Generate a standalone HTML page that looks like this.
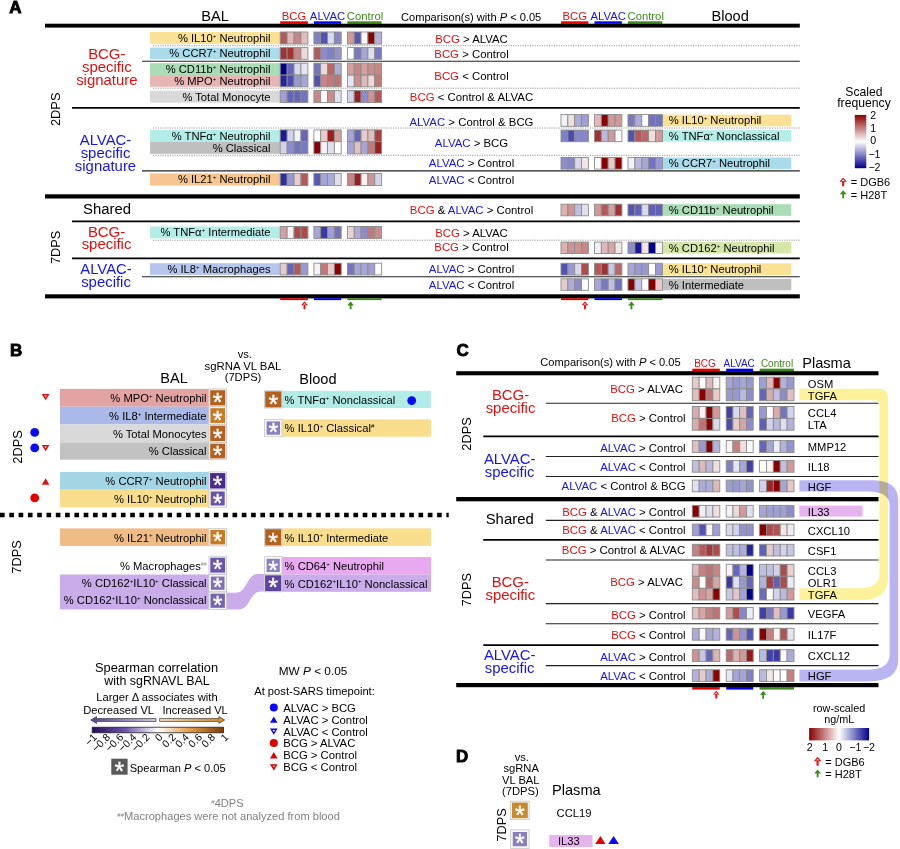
<!DOCTYPE html>
<html><head><meta charset="utf-8"><title>Figure</title>
<style>
html,body{margin:0;padding:0;background:#fff;}
body{width:900px;height:849px;overflow:hidden;}
svg{display:block;font-family:"Liberation Sans", sans-serif;opacity:0.9999;}
svg text{font-family:"Liberation Sans", sans-serif;}
</style></head><body>
<svg width="900" height="849" viewBox="0 0 900 849">
<defs>
<linearGradient id="gA" x1="0" y1="0" x2="0" y2="1"><stop offset="0" stop-color="#8b0000"/><stop offset="0.5" stop-color="#ffffff"/><stop offset="1" stop-color="#00008b"/></linearGradient>
<linearGradient id="gC" x1="0" y1="0" x2="1" y2="0"><stop offset="0" stop-color="#8b0000"/><stop offset="0.5" stop-color="#ffffff"/><stop offset="1" stop-color="#00008b"/></linearGradient>
<linearGradient id="gS" x1="0" y1="0" x2="1" y2="0"><stop offset="0" stop-color="#2d0a5e"/><stop offset="0.25" stop-color="#6a55a8"/><stop offset="0.5" stop-color="#ffffff"/><stop offset="0.75" stop-color="#e09a45"/><stop offset="1" stop-color="#7f3b08"/></linearGradient>
<linearGradient id="gP" x1="0" y1="0" x2="1" y2="0"><stop offset="0" stop-color="#5a3fa0"/><stop offset="1" stop-color="#d8d0ee"/></linearGradient>
<linearGradient id="gO" x1="0" y1="0" x2="1" y2="0"><stop offset="0" stop-color="#fbe3c0"/><stop offset="1" stop-color="#e08a20"/></linearGradient>
</defs>
<text x="9.3" y="12.7" font-size="17" font-weight="bold" stroke="#000" stroke-width="0.9" paint-order="stroke">A</text>
<text x="215.00" y="21.10" font-size="14.6" fill="#000" text-anchor="middle" >BAL</text>
<text x="711.50" y="21.00" font-size="14.6" fill="#000" text-anchor="start" >Blood</text>
<text x="401.00" y="21.10" font-size="11.1" fill="#000" text-anchor="start" >Comparison(s) with <tspan font-style="italic">P</tspan> &lt; 0.05</text>
<text x="294.05" y="19.50" font-size="11.3" fill="#e01010" text-anchor="middle" >BCG</text>
<text x="327.55" y="19.50" font-size="11.3" fill="#1414f0" text-anchor="middle" >ALVAC</text>
<text x="365.00" y="19.50" font-size="11.3" fill="#3c8a1e" text-anchor="middle" >Control</text>
<rect x="280.20" y="21.30" width="27.70" height="2.50" fill="#e60000" />
<rect x="313.90" y="21.30" width="27.30" height="2.50" fill="#0000f0" />
<rect x="347.40" y="21.30" width="34.20" height="2.50" fill="#3c8a1e" />
<text x="574.70" y="19.50" font-size="11.3" fill="#e01010" text-anchor="middle" >BCG</text>
<text x="608.20" y="19.50" font-size="11.3" fill="#1414f0" text-anchor="middle" >ALVAC</text>
<text x="645.70" y="19.50" font-size="11.3" fill="#3c8a1e" text-anchor="middle" >Control</text>
<rect x="561.00" y="21.30" width="27.40" height="2.50" fill="#e60000" />
<rect x="594.50" y="21.30" width="27.40" height="2.50" fill="#0000f0" />
<rect x="628.00" y="21.30" width="34.40" height="2.50" fill="#3c8a1e" />
<rect x="45.00" y="23.70" width="754.80" height="3.90" fill="#000" />
<rect x="45.00" y="194.30" width="754.80" height="4.20" fill="#000" />
<rect x="45.00" y="294.30" width="754.80" height="4.10" fill="#000" />
<rect x="280.20" y="298.20" width="27.70" height="1.90" fill="#e60000" />
<rect x="313.90" y="298.20" width="27.30" height="1.90" fill="#0000f0" />
<rect x="347.40" y="298.20" width="34.20" height="1.90" fill="#3c8a1e" />
<rect x="561.00" y="298.20" width="27.40" height="1.90" fill="#e60000" />
<rect x="594.50" y="298.20" width="27.40" height="1.90" fill="#0000f0" />
<rect x="628.00" y="298.20" width="34.40" height="1.90" fill="#3c8a1e" />
<path d="M304.50,301.30 L307.85,305.20 L305.45,305.20 L305.45,309.20 L303.55,309.20 L303.55,305.20 L301.15,305.20 Z" fill="#e01010"/>
<path d="M304.50,303.05 L305.85,304.45 L303.15,304.45 Z" fill="#fff"/>
<path d="M350.60,301.60 L353.95,305.40 L351.52,305.40 L351.52,309.30 L349.68,309.30 L349.68,305.40 L347.25,305.40 Z" fill="#3c8a1e"/>
<path d="M585.00,301.30 L588.35,305.20 L585.95,305.20 L585.95,309.20 L584.05,309.20 L584.05,305.20 L581.65,305.20 Z" fill="#e01010"/>
<path d="M585.00,303.05 L586.35,304.45 L583.65,304.45 Z" fill="#fff"/>
<path d="M631.40,301.60 L634.75,305.40 L632.32,305.40 L632.32,309.30 L630.48,309.30 L630.48,305.40 L628.05,305.40 Z" fill="#3c8a1e"/>
<line x1="153.00" y1="45.70" x2="799.80" y2="45.70" stroke="#9a9a9a" stroke-width="1" stroke-dasharray="1.2 1.2"/>
<line x1="142.00" y1="61.30" x2="799.80" y2="61.30" stroke="#222" stroke-width="1.1" />
<line x1="153.00" y1="88.20" x2="799.80" y2="88.20" stroke="#9a9a9a" stroke-width="1" stroke-dasharray="1.2 1.2"/>
<line x1="72.00" y1="107.90" x2="799.80" y2="107.90" stroke="#000" stroke-width="1.7" />
<line x1="153.00" y1="128.00" x2="799.80" y2="128.00" stroke="#9a9a9a" stroke-width="1" stroke-dasharray="1.2 1.2"/>
<line x1="153.00" y1="155.30" x2="799.80" y2="155.30" stroke="#9a9a9a" stroke-width="1" stroke-dasharray="1.2 1.2"/>
<line x1="142.00" y1="170.90" x2="799.80" y2="170.90" stroke="#222" stroke-width="1.1" />
<line x1="72.00" y1="221.30" x2="799.80" y2="221.30" stroke="#000" stroke-width="1.7" />
<line x1="153.00" y1="240.20" x2="799.80" y2="240.20" stroke="#9a9a9a" stroke-width="1" stroke-dasharray="1.2 1.2"/>
<line x1="72.00" y1="258.30" x2="799.80" y2="258.30" stroke="#000" stroke-width="1.7" />
<line x1="142.00" y1="276.80" x2="799.80" y2="276.80" stroke="#222" stroke-width="1.1" />
<rect x="150.00" y="32.00" width="130.20" height="12.00" fill="#f9e196" />
<text x="270.50" y="42.00" font-size="11.2" fill="#000" text-anchor="end" >% IL10<tspan dy="-4.14" font-size="6.16">+</tspan><tspan dy="4.14"> Neutrophil</tspan></text>
<rect x="150.00" y="47.60" width="130.20" height="11.70" fill="#a9dbea" />
<text x="270.50" y="57.45" font-size="11.2" fill="#000" text-anchor="end" >% CCR7<tspan dy="-4.14" font-size="6.16">+</tspan><tspan dy="4.14"> Neutrophil</tspan></text>
<rect x="150.00" y="63.20" width="130.20" height="11.90" fill="#aadcb6" />
<text x="270.50" y="73.15" font-size="11.2" fill="#000" text-anchor="end" >% CD11b<tspan dy="-4.14" font-size="6.16">+</tspan><tspan dy="4.14"> Neutrophil</tspan></text>
<rect x="150.00" y="75.10" width="130.20" height="11.70" fill="#e8b5b5" />
<text x="270.50" y="84.95" font-size="11.2" fill="#000" text-anchor="end" >% MPO<tspan dy="-4.14" font-size="6.16">+</tspan><tspan dy="4.14"> Neutrophil</tspan></text>
<rect x="150.00" y="90.60" width="130.20" height="12.00" fill="#d9d9d9" />
<text x="270.50" y="100.60" font-size="11.2" fill="#000" text-anchor="end" >% Total Monocyte</text>
<rect x="150.00" y="129.90" width="130.20" height="11.80" fill="#b4ede7" />
<text x="270.50" y="139.80" font-size="11.2" fill="#000" text-anchor="end" >% TNFα<tspan dy="-4.14" font-size="6.16">+</tspan><tspan dy="4.14"> Neutrophil</tspan></text>
<rect x="150.00" y="141.70" width="130.20" height="12.10" fill="#bfbfbf" />
<text x="270.50" y="151.75" font-size="11.2" fill="#000" text-anchor="end" >% Classical</text>
<rect x="150.00" y="173.40" width="130.20" height="12.10" fill="#f5c68f" />
<text x="270.50" y="183.45" font-size="11.2" fill="#000" text-anchor="end" >% IL21<tspan dy="-4.14" font-size="6.16">+</tspan><tspan dy="4.14"> Neutrophil</tspan></text>
<rect x="150.00" y="226.50" width="130.20" height="11.90" fill="#b4ede7" />
<text x="270.50" y="236.45" font-size="11.2" fill="#000" text-anchor="end" >% TNFα<tspan dy="-4.14" font-size="6.16">+</tspan><tspan dy="4.14"> Intermediate</tspan></text>
<rect x="150.00" y="263.20" width="130.20" height="11.70" fill="#b6c5ec" />
<text x="270.50" y="273.05" font-size="11.2" fill="#000" text-anchor="end" >% IL8<tspan dy="-4.14" font-size="6.16">+</tspan><tspan dy="4.14"> Macrophages</tspan></text>
<rect x="280.20" y="32.00" width="6.93" height="12.00" fill="#b45959" stroke="#8c8c8c" stroke-width="0.9"/>
<rect x="287.12" y="32.00" width="6.92" height="12.00" fill="#dfb9b9" stroke="#8c8c8c" stroke-width="0.9"/>
<rect x="294.05" y="32.00" width="6.93" height="12.00" fill="#c88686" stroke="#8c8c8c" stroke-width="0.9"/>
<rect x="300.97" y="32.00" width="6.93" height="12.00" fill="#e2bfbf" stroke="#8c8c8c" stroke-width="0.9"/>
<rect x="313.90" y="32.00" width="6.82" height="12.00" fill="#8080c5" stroke="#8c8c8c" stroke-width="0.9"/>
<rect x="320.72" y="32.00" width="6.82" height="12.00" fill="#5353b1" stroke="#8c8c8c" stroke-width="0.9"/>
<rect x="327.55" y="32.00" width="6.83" height="12.00" fill="#d9d9ee" stroke="#8c8c8c" stroke-width="0.9"/>
<rect x="334.38" y="32.00" width="6.82" height="12.00" fill="#8686c8" stroke="#8c8c8c" stroke-width="0.9"/>
<rect x="347.40" y="32.00" width="6.84" height="12.00" fill="#d19999" stroke="#8c8c8c" stroke-width="0.9"/>
<rect x="354.24" y="32.00" width="6.84" height="12.00" fill="#5959b4" stroke="#8c8c8c" stroke-width="0.9"/>
<rect x="361.08" y="32.00" width="6.84" height="12.00" fill="#ffffff" stroke="#8c8c8c" stroke-width="0.9"/>
<rect x="367.92" y="32.00" width="6.84" height="12.00" fill="#8b0000" stroke="#8c8c8c" stroke-width="0.9"/>
<rect x="374.76" y="32.00" width="6.84" height="12.00" fill="#b2b2dc" stroke="#8c8c8c" stroke-width="0.9"/>
<rect x="280.20" y="47.60" width="6.93" height="11.70" fill="#a23333" stroke="#8c8c8c" stroke-width="0.9"/>
<rect x="287.12" y="47.60" width="6.92" height="11.70" fill="#a23333" stroke="#8c8c8c" stroke-width="0.9"/>
<rect x="294.05" y="47.60" width="6.93" height="11.70" fill="#c88686" stroke="#8c8c8c" stroke-width="0.9"/>
<rect x="300.97" y="47.60" width="6.93" height="11.70" fill="#eed9d9" stroke="#8c8c8c" stroke-width="0.9"/>
<rect x="313.90" y="47.60" width="6.82" height="11.70" fill="#b45959" stroke="#8c8c8c" stroke-width="0.9"/>
<rect x="320.72" y="47.60" width="6.82" height="11.70" fill="#8c8ccb" stroke="#8c8c8c" stroke-width="0.9"/>
<rect x="327.55" y="47.60" width="6.83" height="11.70" fill="#8080c5" stroke="#8c8c8c" stroke-width="0.9"/>
<rect x="334.38" y="47.60" width="6.82" height="11.70" fill="#9393ce" stroke="#8c8c8c" stroke-width="0.9"/>
<rect x="347.40" y="47.60" width="6.84" height="11.70" fill="#ffffff" stroke="#8c8c8c" stroke-width="0.9"/>
<rect x="354.24" y="47.60" width="6.84" height="11.70" fill="#7979c2" stroke="#8c8c8c" stroke-width="0.9"/>
<rect x="361.08" y="47.60" width="6.84" height="11.70" fill="#a6a6d6" stroke="#8c8c8c" stroke-width="0.9"/>
<rect x="367.92" y="47.60" width="6.84" height="11.70" fill="#dfdff0" stroke="#8c8c8c" stroke-width="0.9"/>
<rect x="374.76" y="47.60" width="6.84" height="11.70" fill="#7979c2" stroke="#8c8c8c" stroke-width="0.9"/>
<rect x="280.20" y="63.20" width="6.93" height="11.90" fill="#00008b" stroke="#8c8c8c" stroke-width="0.9"/>
<rect x="287.12" y="63.20" width="6.92" height="11.90" fill="#6666b9" stroke="#8c8c8c" stroke-width="0.9"/>
<rect x="294.05" y="63.20" width="6.93" height="11.90" fill="#d9d9ee" stroke="#8c8c8c" stroke-width="0.9"/>
<rect x="300.97" y="63.20" width="6.93" height="11.90" fill="#e6e6f3" stroke="#8c8c8c" stroke-width="0.9"/>
<rect x="313.90" y="63.20" width="6.82" height="11.90" fill="#7373bf" stroke="#8c8c8c" stroke-width="0.9"/>
<rect x="320.72" y="63.20" width="6.82" height="11.90" fill="#eed9d9" stroke="#8c8c8c" stroke-width="0.9"/>
<rect x="327.55" y="63.20" width="6.83" height="11.90" fill="#b96666" stroke="#8c8c8c" stroke-width="0.9"/>
<rect x="334.38" y="63.20" width="6.82" height="11.90" fill="#acacd9" stroke="#8c8c8c" stroke-width="0.9"/>
<rect x="347.40" y="63.20" width="6.84" height="11.90" fill="#d49f9f" stroke="#8c8c8c" stroke-width="0.9"/>
<rect x="354.24" y="63.20" width="6.84" height="11.90" fill="#c88686" stroke="#8c8c8c" stroke-width="0.9"/>
<rect x="361.08" y="63.20" width="6.84" height="11.90" fill="#d49f9f" stroke="#8c8c8c" stroke-width="0.9"/>
<rect x="367.92" y="63.20" width="6.84" height="11.90" fill="#cb8c8c" stroke="#8c8c8c" stroke-width="0.9"/>
<rect x="374.76" y="63.20" width="6.84" height="11.90" fill="#c88686" stroke="#8c8c8c" stroke-width="0.9"/>
<rect x="280.20" y="75.10" width="6.93" height="11.70" fill="#26269c" stroke="#8c8c8c" stroke-width="0.9"/>
<rect x="287.12" y="75.10" width="6.92" height="11.70" fill="#4c4cae" stroke="#8c8c8c" stroke-width="0.9"/>
<rect x="294.05" y="75.10" width="6.93" height="11.70" fill="#9999d1" stroke="#8c8c8c" stroke-width="0.9"/>
<rect x="300.97" y="75.10" width="6.93" height="11.70" fill="#a6a6d6" stroke="#8c8c8c" stroke-width="0.9"/>
<rect x="313.90" y="75.10" width="6.82" height="11.70" fill="#5353b1" stroke="#8c8c8c" stroke-width="0.9"/>
<rect x="320.72" y="75.10" width="6.82" height="11.70" fill="#c88686" stroke="#8c8c8c" stroke-width="0.9"/>
<rect x="327.55" y="75.10" width="6.83" height="11.70" fill="#c27979" stroke="#8c8c8c" stroke-width="0.9"/>
<rect x="334.38" y="75.10" width="6.82" height="11.70" fill="#bf7373" stroke="#8c8c8c" stroke-width="0.9"/>
<rect x="347.40" y="75.10" width="6.84" height="11.70" fill="#e6e6f3" stroke="#8c8c8c" stroke-width="0.9"/>
<rect x="354.24" y="75.10" width="6.84" height="11.70" fill="#cb8c8c" stroke="#8c8c8c" stroke-width="0.9"/>
<rect x="361.08" y="75.10" width="6.84" height="11.70" fill="#dfb9b9" stroke="#8c8c8c" stroke-width="0.9"/>
<rect x="367.92" y="75.10" width="6.84" height="11.70" fill="#eed9d9" stroke="#8c8c8c" stroke-width="0.9"/>
<rect x="374.76" y="75.10" width="6.84" height="11.70" fill="#c27979" stroke="#8c8c8c" stroke-width="0.9"/>
<rect x="280.20" y="90.60" width="6.93" height="12.00" fill="#9f9fd4" stroke="#8c8c8c" stroke-width="0.9"/>
<rect x="287.12" y="90.60" width="6.92" height="12.00" fill="#6666b9" stroke="#8c8c8c" stroke-width="0.9"/>
<rect x="294.05" y="90.60" width="6.93" height="12.00" fill="#6666b9" stroke="#8c8c8c" stroke-width="0.9"/>
<rect x="300.97" y="90.60" width="6.93" height="12.00" fill="#7373bf" stroke="#8c8c8c" stroke-width="0.9"/>
<rect x="313.90" y="90.60" width="6.82" height="12.00" fill="#c88686" stroke="#8c8c8c" stroke-width="0.9"/>
<rect x="320.72" y="90.60" width="6.82" height="12.00" fill="#ffffff" stroke="#8c8c8c" stroke-width="0.9"/>
<rect x="327.55" y="90.60" width="6.83" height="12.00" fill="#cb8c8c" stroke="#8c8c8c" stroke-width="0.9"/>
<rect x="334.38" y="90.60" width="6.82" height="12.00" fill="#dfdff0" stroke="#8c8c8c" stroke-width="0.9"/>
<rect x="347.40" y="90.60" width="6.84" height="12.00" fill="#d2d2eb" stroke="#8c8c8c" stroke-width="0.9"/>
<rect x="354.24" y="90.60" width="6.84" height="12.00" fill="#9a2020" stroke="#8c8c8c" stroke-width="0.9"/>
<rect x="361.08" y="90.60" width="6.84" height="12.00" fill="#8c8ccb" stroke="#8c8c8c" stroke-width="0.9"/>
<rect x="367.92" y="90.60" width="6.84" height="12.00" fill="#ce9393" stroke="#8c8c8c" stroke-width="0.9"/>
<rect x="374.76" y="90.60" width="6.84" height="12.00" fill="#b45959" stroke="#8c8c8c" stroke-width="0.9"/>
<rect x="280.20" y="129.90" width="6.93" height="11.80" fill="#1a1a97" stroke="#8c8c8c" stroke-width="0.9"/>
<rect x="287.12" y="129.90" width="6.92" height="11.80" fill="#d2d2eb" stroke="#8c8c8c" stroke-width="0.9"/>
<rect x="294.05" y="129.90" width="6.93" height="11.80" fill="#f2f2f9" stroke="#8c8c8c" stroke-width="0.9"/>
<rect x="300.97" y="129.90" width="6.93" height="11.80" fill="#6666b9" stroke="#8c8c8c" stroke-width="0.9"/>
<rect x="313.90" y="129.90" width="6.82" height="11.80" fill="#ffffff" stroke="#8c8c8c" stroke-width="0.9"/>
<rect x="320.72" y="129.90" width="6.82" height="11.80" fill="#e8cccc" stroke="#8c8c8c" stroke-width="0.9"/>
<rect x="327.55" y="129.90" width="6.83" height="11.80" fill="#9a2020" stroke="#8c8c8c" stroke-width="0.9"/>
<rect x="334.38" y="129.90" width="6.82" height="11.80" fill="#d49f9f" stroke="#8c8c8c" stroke-width="0.9"/>
<rect x="347.40" y="129.90" width="6.84" height="11.80" fill="#a6a6d6" stroke="#8c8c8c" stroke-width="0.9"/>
<rect x="354.24" y="129.90" width="6.84" height="11.80" fill="#6666b9" stroke="#8c8c8c" stroke-width="0.9"/>
<rect x="361.08" y="129.90" width="6.84" height="11.80" fill="#e8cccc" stroke="#8c8c8c" stroke-width="0.9"/>
<rect x="367.92" y="129.90" width="6.84" height="11.80" fill="#e2bfbf" stroke="#8c8c8c" stroke-width="0.9"/>
<rect x="374.76" y="129.90" width="6.84" height="11.80" fill="#a84040" stroke="#8c8c8c" stroke-width="0.9"/>
<rect x="280.20" y="141.70" width="6.93" height="12.10" fill="#d2d2eb" stroke="#8c8c8c" stroke-width="0.9"/>
<rect x="287.12" y="141.70" width="6.92" height="12.10" fill="#8c8ccb" stroke="#8c8c8c" stroke-width="0.9"/>
<rect x="294.05" y="141.70" width="6.93" height="12.10" fill="#7373bf" stroke="#8c8c8c" stroke-width="0.9"/>
<rect x="300.97" y="141.70" width="6.93" height="12.10" fill="#7979c2" stroke="#8c8c8c" stroke-width="0.9"/>
<rect x="313.90" y="141.70" width="6.82" height="12.10" fill="#8b0000" stroke="#8c8c8c" stroke-width="0.9"/>
<rect x="320.72" y="141.70" width="6.82" height="12.10" fill="#f2f2f9" stroke="#8c8c8c" stroke-width="0.9"/>
<rect x="327.55" y="141.70" width="6.83" height="12.10" fill="#dfdff0" stroke="#8c8c8c" stroke-width="0.9"/>
<rect x="334.38" y="141.70" width="6.82" height="12.10" fill="#ffffff" stroke="#8c8c8c" stroke-width="0.9"/>
<rect x="347.40" y="141.70" width="6.84" height="12.10" fill="#a6a6d6" stroke="#8c8c8c" stroke-width="0.9"/>
<rect x="354.24" y="141.70" width="6.84" height="12.10" fill="#e2bfbf" stroke="#8c8c8c" stroke-width="0.9"/>
<rect x="361.08" y="141.70" width="6.84" height="12.10" fill="#a6a6d6" stroke="#8c8c8c" stroke-width="0.9"/>
<rect x="367.92" y="141.70" width="6.84" height="12.10" fill="#c27979" stroke="#8c8c8c" stroke-width="0.9"/>
<rect x="374.76" y="141.70" width="6.84" height="12.10" fill="#9a2020" stroke="#8c8c8c" stroke-width="0.9"/>
<rect x="280.20" y="173.40" width="6.93" height="12.10" fill="#2d2d9f" stroke="#8c8c8c" stroke-width="0.9"/>
<rect x="287.12" y="173.40" width="6.92" height="12.10" fill="#9999d1" stroke="#8c8c8c" stroke-width="0.9"/>
<rect x="294.05" y="173.40" width="6.93" height="12.10" fill="#e8cccc" stroke="#8c8c8c" stroke-width="0.9"/>
<rect x="300.97" y="173.40" width="6.93" height="12.10" fill="#b45959" stroke="#8c8c8c" stroke-width="0.9"/>
<rect x="313.90" y="173.40" width="6.82" height="12.10" fill="#5959b4" stroke="#8c8c8c" stroke-width="0.9"/>
<rect x="320.72" y="173.40" width="6.82" height="12.10" fill="#a6a6d6" stroke="#8c8c8c" stroke-width="0.9"/>
<rect x="327.55" y="173.40" width="6.83" height="12.10" fill="#acacd9" stroke="#8c8c8c" stroke-width="0.9"/>
<rect x="334.38" y="173.40" width="6.82" height="12.10" fill="#dfdff0" stroke="#8c8c8c" stroke-width="0.9"/>
<rect x="347.40" y="173.40" width="6.84" height="12.10" fill="#c88686" stroke="#8c8c8c" stroke-width="0.9"/>
<rect x="354.24" y="173.40" width="6.84" height="12.10" fill="#9a2020" stroke="#8c8c8c" stroke-width="0.9"/>
<rect x="361.08" y="173.40" width="6.84" height="12.10" fill="#f9f2f2" stroke="#8c8c8c" stroke-width="0.9"/>
<rect x="367.92" y="173.40" width="6.84" height="12.10" fill="#ce9393" stroke="#8c8c8c" stroke-width="0.9"/>
<rect x="374.76" y="173.40" width="6.84" height="12.10" fill="#d2d2eb" stroke="#8c8c8c" stroke-width="0.9"/>
<rect x="280.20" y="226.50" width="6.93" height="11.90" fill="#d49f9f" stroke="#8c8c8c" stroke-width="0.9"/>
<rect x="287.12" y="226.50" width="6.92" height="11.90" fill="#f2f2f9" stroke="#8c8c8c" stroke-width="0.9"/>
<rect x="294.05" y="226.50" width="6.93" height="11.90" fill="#ae4c4c" stroke="#8c8c8c" stroke-width="0.9"/>
<rect x="300.97" y="226.50" width="6.93" height="11.90" fill="#ae4c4c" stroke="#8c8c8c" stroke-width="0.9"/>
<rect x="313.90" y="226.50" width="6.82" height="11.90" fill="#a6a6d6" stroke="#8c8c8c" stroke-width="0.9"/>
<rect x="320.72" y="226.50" width="6.82" height="11.90" fill="#3939a5" stroke="#8c8c8c" stroke-width="0.9"/>
<rect x="327.55" y="226.50" width="6.83" height="11.90" fill="#9f9fd4" stroke="#8c8c8c" stroke-width="0.9"/>
<rect x="334.38" y="226.50" width="6.82" height="11.90" fill="#7373bf" stroke="#8c8c8c" stroke-width="0.9"/>
<rect x="347.40" y="226.50" width="6.84" height="11.90" fill="#ebd2d2" stroke="#8c8c8c" stroke-width="0.9"/>
<rect x="354.24" y="226.50" width="6.84" height="11.90" fill="#acacd9" stroke="#8c8c8c" stroke-width="0.9"/>
<rect x="361.08" y="226.50" width="6.84" height="11.90" fill="#8c8ccb" stroke="#8c8c8c" stroke-width="0.9"/>
<rect x="367.92" y="226.50" width="6.84" height="11.90" fill="#c27979" stroke="#8c8c8c" stroke-width="0.9"/>
<rect x="374.76" y="226.50" width="6.84" height="11.90" fill="#cb8c8c" stroke="#8c8c8c" stroke-width="0.9"/>
<rect x="280.20" y="263.20" width="6.93" height="11.70" fill="#e8cccc" stroke="#8c8c8c" stroke-width="0.9"/>
<rect x="287.12" y="263.20" width="6.92" height="11.70" fill="#6666b9" stroke="#8c8c8c" stroke-width="0.9"/>
<rect x="294.05" y="263.20" width="6.93" height="11.70" fill="#b45959" stroke="#8c8c8c" stroke-width="0.9"/>
<rect x="300.97" y="263.20" width="6.93" height="11.70" fill="#9999d1" stroke="#8c8c8c" stroke-width="0.9"/>
<rect x="313.90" y="263.20" width="6.82" height="11.70" fill="#f2f2f9" stroke="#8c8c8c" stroke-width="0.9"/>
<rect x="320.72" y="263.20" width="6.82" height="11.70" fill="#c27979" stroke="#8c8c8c" stroke-width="0.9"/>
<rect x="327.55" y="263.20" width="6.83" height="11.70" fill="#e8cccc" stroke="#8c8c8c" stroke-width="0.9"/>
<rect x="334.38" y="263.20" width="6.82" height="11.70" fill="#8b0000" stroke="#8c8c8c" stroke-width="0.9"/>
<rect x="347.40" y="263.20" width="6.84" height="11.70" fill="#7373bf" stroke="#8c8c8c" stroke-width="0.9"/>
<rect x="354.24" y="263.20" width="6.84" height="11.70" fill="#a6a6d6" stroke="#8c8c8c" stroke-width="0.9"/>
<rect x="361.08" y="263.20" width="6.84" height="11.70" fill="#a6a6d6" stroke="#8c8c8c" stroke-width="0.9"/>
<rect x="367.92" y="263.20" width="6.84" height="11.70" fill="#9f9fd4" stroke="#8c8c8c" stroke-width="0.9"/>
<rect x="374.76" y="263.20" width="6.84" height="11.70" fill="#ffffff" stroke="#8c8c8c" stroke-width="0.9"/>
<text x="471.50" y="42.90" font-size="11.4" text-anchor="middle" xml:space="preserve"><tspan fill="#e01010">BCG</tspan> &gt; ALVAC</text>
<text x="471.50" y="57.70" font-size="11.4" text-anchor="middle" xml:space="preserve"><tspan fill="#e01010">BCG</tspan> &gt; Control</text>
<text x="471.50" y="79.50" font-size="11.4" text-anchor="middle" xml:space="preserve"><tspan fill="#e01010">BCG</tspan> &lt; Control</text>
<text x="471.50" y="100.50" font-size="11.4" text-anchor="middle" xml:space="preserve"><tspan fill="#e01010">BCG</tspan> &lt; Control &amp; ALVAC</text>
<text x="471.50" y="125.50" font-size="11.4" text-anchor="middle" xml:space="preserve"><tspan fill="#1414f0">ALVAC</tspan> &gt; Control &amp; BCG</text>
<text x="471.50" y="146.90" font-size="11.4" text-anchor="middle" xml:space="preserve"><tspan fill="#1414f0">ALVAC</tspan> &gt; BCG</text>
<text x="471.50" y="167.30" font-size="11.4" text-anchor="middle" xml:space="preserve"><tspan fill="#1414f0">ALVAC</tspan> &gt; Control</text>
<text x="471.50" y="183.70" font-size="11.4" text-anchor="middle" xml:space="preserve"><tspan fill="#1414f0">ALVAC</tspan> &lt; Control</text>
<text x="471.50" y="213.70" font-size="11.4" text-anchor="middle" xml:space="preserve"><tspan fill="#e01010">BCG</tspan> &amp; <tspan fill="#1414f0">ALVAC</tspan> &gt; Control</text>
<text x="471.50" y="236.50" font-size="11.4" text-anchor="middle" xml:space="preserve"><tspan fill="#e01010">BCG</tspan> &gt; ALVAC</text>
<text x="471.50" y="251.40" font-size="11.4" text-anchor="middle" xml:space="preserve"><tspan fill="#e01010">BCG</tspan> &gt; Control</text>
<text x="471.50" y="272.90" font-size="11.4" text-anchor="middle" xml:space="preserve"><tspan fill="#1414f0">ALVAC</tspan> &gt; Control</text>
<text x="471.50" y="288.50" font-size="11.4" text-anchor="middle" xml:space="preserve"><tspan fill="#1414f0">ALVAC</tspan> &lt; Control</text>
<rect x="662.40" y="114.60" width="128.90" height="11.70" fill="#f9e196" />
<text x="668.80" y="124.45" font-size="11.2" fill="#000" text-anchor="start" >% IL10<tspan dy="-4.14" font-size="6.16">+</tspan><tspan dy="4.14"> Neutrophil</tspan></text>
<rect x="561.00" y="114.60" width="6.85" height="11.70" fill="#f2f2f9" stroke="#8c8c8c" stroke-width="0.9"/>
<rect x="567.85" y="114.60" width="6.85" height="11.70" fill="#f0dfdf" stroke="#8c8c8c" stroke-width="0.9"/>
<rect x="574.70" y="114.60" width="6.85" height="11.70" fill="#acacd9" stroke="#8c8c8c" stroke-width="0.9"/>
<rect x="581.55" y="114.60" width="6.85" height="11.70" fill="#9f9fd4" stroke="#8c8c8c" stroke-width="0.9"/>
<rect x="594.50" y="114.60" width="6.85" height="11.70" fill="#dfb9b9" stroke="#8c8c8c" stroke-width="0.9"/>
<rect x="601.35" y="114.60" width="6.85" height="11.70" fill="#8b0000" stroke="#8c8c8c" stroke-width="0.9"/>
<rect x="608.20" y="114.60" width="6.85" height="11.70" fill="#d19999" stroke="#8c8c8c" stroke-width="0.9"/>
<rect x="615.05" y="114.60" width="6.85" height="11.70" fill="#d19999" stroke="#8c8c8c" stroke-width="0.9"/>
<rect x="628.00" y="114.60" width="6.88" height="11.70" fill="#7979c2" stroke="#8c8c8c" stroke-width="0.9"/>
<rect x="634.88" y="114.60" width="6.88" height="11.70" fill="#acacd9" stroke="#8c8c8c" stroke-width="0.9"/>
<rect x="641.76" y="114.60" width="6.88" height="11.70" fill="#ffffff" stroke="#8c8c8c" stroke-width="0.9"/>
<rect x="648.64" y="114.60" width="6.88" height="11.70" fill="#7373bf" stroke="#8c8c8c" stroke-width="0.9"/>
<rect x="655.52" y="114.60" width="6.88" height="11.70" fill="#7373bf" stroke="#8c8c8c" stroke-width="0.9"/>
<rect x="662.40" y="130.10" width="128.90" height="11.60" fill="#b4ede7" />
<text x="668.80" y="139.90" font-size="11.2" fill="#000" text-anchor="start" >% TNFα<tspan dy="-4.14" font-size="6.16">+</tspan><tspan dy="4.14"> Nonclassical</tspan></text>
<rect x="561.00" y="130.10" width="6.85" height="11.60" fill="#8080c5" stroke="#8c8c8c" stroke-width="0.9"/>
<rect x="567.85" y="130.10" width="6.85" height="11.60" fill="#4c4cae" stroke="#8c8c8c" stroke-width="0.9"/>
<rect x="574.70" y="130.10" width="6.85" height="11.60" fill="#8686c8" stroke="#8c8c8c" stroke-width="0.9"/>
<rect x="581.55" y="130.10" width="6.85" height="11.60" fill="#8686c8" stroke="#8c8c8c" stroke-width="0.9"/>
<rect x="594.50" y="130.10" width="6.85" height="11.60" fill="#a23333" stroke="#8c8c8c" stroke-width="0.9"/>
<rect x="601.35" y="130.10" width="6.85" height="11.60" fill="#b9b9df" stroke="#8c8c8c" stroke-width="0.9"/>
<rect x="608.20" y="130.10" width="6.85" height="11.60" fill="#d19999" stroke="#8c8c8c" stroke-width="0.9"/>
<rect x="615.05" y="130.10" width="6.85" height="11.60" fill="#ffffff" stroke="#8c8c8c" stroke-width="0.9"/>
<rect x="628.00" y="130.10" width="6.88" height="11.60" fill="#5353b1" stroke="#8c8c8c" stroke-width="0.9"/>
<rect x="634.88" y="130.10" width="6.88" height="11.60" fill="#b45959" stroke="#8c8c8c" stroke-width="0.9"/>
<rect x="641.76" y="130.10" width="6.88" height="11.60" fill="#b96666" stroke="#8c8c8c" stroke-width="0.9"/>
<rect x="648.64" y="130.10" width="6.88" height="11.60" fill="#f0dfdf" stroke="#8c8c8c" stroke-width="0.9"/>
<rect x="655.52" y="130.10" width="6.88" height="11.60" fill="#d19999" stroke="#8c8c8c" stroke-width="0.9"/>
<rect x="662.40" y="157.50" width="128.90" height="11.60" fill="#a9dbea" />
<text x="668.80" y="167.30" font-size="11.2" fill="#000" text-anchor="start" >% CCR7<tspan dy="-4.14" font-size="6.16">+</tspan><tspan dy="4.14"> Neutrophil</tspan></text>
<rect x="561.00" y="157.50" width="6.85" height="11.60" fill="#8c8ccb" stroke="#8c8c8c" stroke-width="0.9"/>
<rect x="567.85" y="157.50" width="6.85" height="11.60" fill="#8686c8" stroke="#8c8c8c" stroke-width="0.9"/>
<rect x="574.70" y="157.50" width="6.85" height="11.60" fill="#d9d9ee" stroke="#8c8c8c" stroke-width="0.9"/>
<rect x="581.55" y="157.50" width="6.85" height="11.60" fill="#f3e6e6" stroke="#8c8c8c" stroke-width="0.9"/>
<rect x="594.50" y="157.50" width="6.85" height="11.60" fill="#ffffff" stroke="#8c8c8c" stroke-width="0.9"/>
<rect x="601.35" y="157.50" width="6.85" height="11.60" fill="#8b0000" stroke="#8c8c8c" stroke-width="0.9"/>
<rect x="608.20" y="157.50" width="6.85" height="11.60" fill="#e8cccc" stroke="#8c8c8c" stroke-width="0.9"/>
<rect x="615.05" y="157.50" width="6.85" height="11.60" fill="#8b0000" stroke="#8c8c8c" stroke-width="0.9"/>
<rect x="628.00" y="157.50" width="6.88" height="11.60" fill="#f2f2f9" stroke="#8c8c8c" stroke-width="0.9"/>
<rect x="634.88" y="157.50" width="6.88" height="11.60" fill="#b9b9df" stroke="#8c8c8c" stroke-width="0.9"/>
<rect x="641.76" y="157.50" width="6.88" height="11.60" fill="#a6a6d6" stroke="#8c8c8c" stroke-width="0.9"/>
<rect x="648.64" y="157.50" width="6.88" height="11.60" fill="#7373bf" stroke="#8c8c8c" stroke-width="0.9"/>
<rect x="655.52" y="157.50" width="6.88" height="11.60" fill="#9999d1" stroke="#8c8c8c" stroke-width="0.9"/>
<rect x="662.40" y="204.20" width="128.90" height="11.60" fill="#aadcb6" />
<text x="668.80" y="214.00" font-size="11.2" fill="#000" text-anchor="start" >% CD11b<tspan dy="-4.14" font-size="6.16">+</tspan><tspan dy="4.14"> Neutrophil</tspan></text>
<rect x="561.00" y="204.20" width="6.85" height="11.60" fill="#dcb2b2" stroke="#8c8c8c" stroke-width="0.9"/>
<rect x="567.85" y="204.20" width="6.85" height="11.60" fill="#ce9393" stroke="#8c8c8c" stroke-width="0.9"/>
<rect x="574.70" y="204.20" width="6.85" height="11.60" fill="#bfbfe2" stroke="#8c8c8c" stroke-width="0.9"/>
<rect x="581.55" y="204.20" width="6.85" height="11.60" fill="#dfdff0" stroke="#8c8c8c" stroke-width="0.9"/>
<rect x="594.50" y="204.20" width="6.85" height="11.60" fill="#d19999" stroke="#8c8c8c" stroke-width="0.9"/>
<rect x="601.35" y="204.20" width="6.85" height="11.60" fill="#b45959" stroke="#8c8c8c" stroke-width="0.9"/>
<rect x="608.20" y="204.20" width="6.85" height="11.60" fill="#d49f9f" stroke="#8c8c8c" stroke-width="0.9"/>
<rect x="615.05" y="204.20" width="6.85" height="11.60" fill="#a23333" stroke="#8c8c8c" stroke-width="0.9"/>
<rect x="628.00" y="204.20" width="6.88" height="11.60" fill="#5353b1" stroke="#8c8c8c" stroke-width="0.9"/>
<rect x="634.88" y="204.20" width="6.88" height="11.60" fill="#6060b6" stroke="#8c8c8c" stroke-width="0.9"/>
<rect x="641.76" y="204.20" width="6.88" height="11.60" fill="#d9d9ee" stroke="#8c8c8c" stroke-width="0.9"/>
<rect x="648.64" y="204.20" width="6.88" height="11.60" fill="#6060b6" stroke="#8c8c8c" stroke-width="0.9"/>
<rect x="655.52" y="204.20" width="6.88" height="11.60" fill="#6060b6" stroke="#8c8c8c" stroke-width="0.9"/>
<rect x="662.40" y="242.10" width="128.90" height="11.40" fill="#d5e6a8" />
<text x="668.80" y="251.80" font-size="11.2" fill="#000" text-anchor="start" >% CD162<tspan dy="-4.14" font-size="6.16">+</tspan><tspan dy="4.14"> Neutrophil</tspan></text>
<rect x="561.00" y="242.10" width="6.85" height="11.40" fill="#dcb2b2" stroke="#8c8c8c" stroke-width="0.9"/>
<rect x="567.85" y="242.10" width="6.85" height="11.40" fill="#ce9393" stroke="#8c8c8c" stroke-width="0.9"/>
<rect x="574.70" y="242.10" width="6.85" height="11.40" fill="#ce9393" stroke="#8c8c8c" stroke-width="0.9"/>
<rect x="581.55" y="242.10" width="6.85" height="11.40" fill="#c88686" stroke="#8c8c8c" stroke-width="0.9"/>
<rect x="594.50" y="242.10" width="6.85" height="11.40" fill="#f0f0f8" stroke="#8c8c8c" stroke-width="0.9"/>
<rect x="601.35" y="242.10" width="6.85" height="11.40" fill="#dfb9b9" stroke="#8c8c8c" stroke-width="0.9"/>
<rect x="608.20" y="242.10" width="6.85" height="11.40" fill="#d6a6a6" stroke="#8c8c8c" stroke-width="0.9"/>
<rect x="615.05" y="242.10" width="6.85" height="11.40" fill="#f3e6e6" stroke="#8c8c8c" stroke-width="0.9"/>
<rect x="628.00" y="242.10" width="6.88" height="11.40" fill="#8c8ccb" stroke="#8c8c8c" stroke-width="0.9"/>
<rect x="634.88" y="242.10" width="6.88" height="11.40" fill="#1a1a97" stroke="#8c8c8c" stroke-width="0.9"/>
<rect x="641.76" y="242.10" width="6.88" height="11.40" fill="#f3e6e6" stroke="#8c8c8c" stroke-width="0.9"/>
<rect x="648.64" y="242.10" width="6.88" height="11.40" fill="#00008b" stroke="#8c8c8c" stroke-width="0.9"/>
<rect x="655.52" y="242.10" width="6.88" height="11.40" fill="#f9f2f2" stroke="#8c8c8c" stroke-width="0.9"/>
<rect x="662.40" y="263.30" width="128.90" height="11.70" fill="#f9e196" />
<text x="668.80" y="273.15" font-size="11.2" fill="#000" text-anchor="start" >% IL10<tspan dy="-4.14" font-size="6.16">+</tspan><tspan dy="4.14"> Neutrophil</tspan></text>
<rect x="561.00" y="263.30" width="6.85" height="11.70" fill="#5353b1" stroke="#8c8c8c" stroke-width="0.9"/>
<rect x="567.85" y="263.30" width="6.85" height="11.70" fill="#9999d1" stroke="#8c8c8c" stroke-width="0.9"/>
<rect x="574.70" y="263.30" width="6.85" height="11.70" fill="#d9d9ee" stroke="#8c8c8c" stroke-width="0.9"/>
<rect x="581.55" y="263.30" width="6.85" height="11.70" fill="#ae4c4c" stroke="#8c8c8c" stroke-width="0.9"/>
<rect x="594.50" y="263.30" width="6.85" height="11.70" fill="#b45959" stroke="#8c8c8c" stroke-width="0.9"/>
<rect x="601.35" y="263.30" width="6.85" height="11.70" fill="#a23333" stroke="#8c8c8c" stroke-width="0.9"/>
<rect x="608.20" y="263.30" width="6.85" height="11.70" fill="#c6c6e5" stroke="#8c8c8c" stroke-width="0.9"/>
<rect x="615.05" y="263.30" width="6.85" height="11.70" fill="#b96666" stroke="#8c8c8c" stroke-width="0.9"/>
<rect x="628.00" y="263.30" width="6.88" height="11.70" fill="#a6a6d6" stroke="#8c8c8c" stroke-width="0.9"/>
<rect x="634.88" y="263.30" width="6.88" height="11.70" fill="#9999d1" stroke="#8c8c8c" stroke-width="0.9"/>
<rect x="641.76" y="263.30" width="6.88" height="11.70" fill="#9999d1" stroke="#8c8c8c" stroke-width="0.9"/>
<rect x="648.64" y="263.30" width="6.88" height="11.70" fill="#ffffff" stroke="#8c8c8c" stroke-width="0.9"/>
<rect x="655.52" y="263.30" width="6.88" height="11.70" fill="#9999d1" stroke="#8c8c8c" stroke-width="0.9"/>
<rect x="662.40" y="278.80" width="128.90" height="11.50" fill="#bfbfbf" />
<text x="668.80" y="288.55" font-size="11.2" fill="#000" text-anchor="start" >% Intermediate</text>
<rect x="561.00" y="278.80" width="6.85" height="11.50" fill="#e8cccc" stroke="#8c8c8c" stroke-width="0.9"/>
<rect x="567.85" y="278.80" width="6.85" height="11.50" fill="#acacd9" stroke="#8c8c8c" stroke-width="0.9"/>
<rect x="574.70" y="278.80" width="6.85" height="11.50" fill="#8c8ccb" stroke="#8c8c8c" stroke-width="0.9"/>
<rect x="581.55" y="278.80" width="6.85" height="11.50" fill="#fcfcfe" stroke="#8c8c8c" stroke-width="0.9"/>
<rect x="594.50" y="278.80" width="6.85" height="11.50" fill="#a6a6d6" stroke="#8c8c8c" stroke-width="0.9"/>
<rect x="601.35" y="278.80" width="6.85" height="11.50" fill="#7979c2" stroke="#8c8c8c" stroke-width="0.9"/>
<rect x="608.20" y="278.80" width="6.85" height="11.50" fill="#bfbfe2" stroke="#8c8c8c" stroke-width="0.9"/>
<rect x="615.05" y="278.80" width="6.85" height="11.50" fill="#7373bf" stroke="#8c8c8c" stroke-width="0.9"/>
<rect x="628.00" y="278.80" width="6.88" height="11.50" fill="#8b0000" stroke="#8c8c8c" stroke-width="0.9"/>
<rect x="634.88" y="278.80" width="6.88" height="11.50" fill="#c6c6e5" stroke="#8c8c8c" stroke-width="0.9"/>
<rect x="641.76" y="278.80" width="6.88" height="11.50" fill="#ffffff" stroke="#8c8c8c" stroke-width="0.9"/>
<rect x="648.64" y="278.80" width="6.88" height="11.50" fill="#8b0000" stroke="#8c8c8c" stroke-width="0.9"/>
<rect x="655.52" y="278.80" width="6.88" height="11.50" fill="#e8cccc" stroke="#8c8c8c" stroke-width="0.9"/>
<text x="106.80" y="58.50" font-size="14.9" fill="#e01010" text-anchor="middle" >BCG-</text>
<text x="106.80" y="71.90" font-size="14.9" fill="#e01010" text-anchor="middle" >specific</text>
<text x="106.80" y="84.90" font-size="14.9" fill="#e01010" text-anchor="middle" >signature</text>
<text x="105.50" y="145.30" font-size="14.9" fill="#1414f0" text-anchor="middle" >ALVAC-</text>
<text x="105.50" y="158.30" font-size="14.9" fill="#1414f0" text-anchor="middle" >specific</text>
<text x="105.50" y="171.30" font-size="14.9" fill="#1414f0" text-anchor="middle" >signature</text>
<text x="107.00" y="213.80" font-size="14.9" fill="#000" text-anchor="middle" >Shared</text>
<text x="106.50" y="236.90" font-size="14.9" fill="#e01010" text-anchor="middle" >BCG-</text>
<text x="106.50" y="249.40" font-size="14.9" fill="#e01010" text-anchor="middle" >specific</text>
<text x="106.00" y="273.90" font-size="14.9" fill="#1414f0" text-anchor="middle" >ALVAC-</text>
<text x="106.00" y="286.70" font-size="14.9" fill="#1414f0" text-anchor="middle" >specific</text>
<text transform="translate(60.30,109.30) rotate(-90)" font-size="12.8" text-anchor="middle">2DPS</text>
<text transform="translate(60.30,247.40) rotate(-90)" font-size="12.8" text-anchor="middle">7DPS</text>
<text x="864.00" y="95.70" font-size="12.2" fill="#000" text-anchor="middle" >Scaled</text>
<text x="864.00" y="107.10" font-size="12.2" fill="#000" text-anchor="middle" >frequency</text>
<rect x="854.80" y="114.90" width="11.50" height="53.30" fill="url(#gA)" />
<text x="870.30" y="118.70" font-size="10.6" fill="#000" text-anchor="start" >2</text>
<text x="870.30" y="131.90" font-size="10.6" fill="#000" text-anchor="start" >1</text>
<text x="870.30" y="144.30" font-size="10.6" fill="#000" text-anchor="start" >0</text>
<text x="868.40" y="158.00" font-size="10.6" fill="#000" text-anchor="start" >−1</text>
<text x="868.40" y="171.20" font-size="10.6" fill="#000" text-anchor="start" >−2</text>
<path d="M843.20,177.40 L846.95,181.77 L844.26,181.77 L844.26,186.25 L842.14,186.25 L842.14,181.77 L839.45,181.77 Z" fill="#e01010"/>
<path d="M843.20,179.36 L844.71,180.93 L841.69,180.93 Z" fill="#fff"/>
<text x="850.80" y="185.50" font-size="11.0" fill="#000" text-anchor="start" >= DGB6</text>
<path d="M843.20,190.30 L846.62,194.18 L844.14,194.18 L844.14,198.15 L842.26,198.15 L842.26,194.18 L839.78,194.18 Z" fill="#3c8a1e"/>
<text x="850.80" y="198.90" font-size="11.0" fill="#000" text-anchor="start" >= H28T</text>
<text x="10" y="356.2" font-size="17" font-weight="bold" stroke="#000" stroke-width="0.9" paint-order="stroke">B</text>
<text x="174.00" y="383.30" font-size="14.6" fill="#000" text-anchor="middle" >BAL</text>
<text x="299.20" y="383.80" font-size="14.6" fill="#000" text-anchor="start" >Blood</text>
<text x="244.80" y="358.40" font-size="11.2" fill="#000" text-anchor="middle" >vs.</text>
<text x="243.00" y="369.50" font-size="11.4" fill="#000" text-anchor="middle" >sgRNA VL BAL</text>
<text x="243.00" y="380.60" font-size="11.2" fill="#000" text-anchor="middle" >(7DPS)</text>
<text transform="translate(21.70,447.00) rotate(-90)" font-size="12.8" text-anchor="middle">2DPS</text>
<text transform="translate(20.90,557.00) rotate(-90)" font-size="12.8" text-anchor="middle">7DPS</text>
<rect x="60.00" y="388.90" width="149.00" height="17.80" fill="#e3a3a3" />
<text x="206.60" y="402.20" font-size="11.2" fill="#000" text-anchor="end" >% MPO<tspan dy="-4.14" font-size="6.16">+</tspan><tspan dy="4.14"> Neutrophil</tspan></text>
<rect x="60.00" y="406.70" width="149.00" height="17.70" fill="#aab9e8" />
<text x="206.60" y="419.95" font-size="11.2" fill="#000" text-anchor="end" >% IL8<tspan dy="-4.14" font-size="6.16">+</tspan><tspan dy="4.14"> Intermediate</tspan></text>
<rect x="60.00" y="424.40" width="149.00" height="18.00" fill="#d9d9d9" />
<text x="206.60" y="437.80" font-size="11.2" fill="#000" text-anchor="end" >% Total Monocytes</text>
<rect x="60.00" y="442.40" width="149.00" height="17.30" fill="#c2c2c2" />
<text x="206.60" y="455.45" font-size="11.2" fill="#000" text-anchor="end" >% Classical</text>
<rect x="60.00" y="471.90" width="149.00" height="17.80" fill="#a3d5e5" />
<text x="206.60" y="485.20" font-size="11.2" fill="#000" text-anchor="end" >% CCR7<tspan dy="-4.14" font-size="6.16">+</tspan><tspan dy="4.14"> Neutrophil</tspan></text>
<rect x="60.00" y="489.70" width="149.00" height="17.60" fill="#f8dd8c" />
<text x="206.60" y="502.90" font-size="11.2" fill="#000" text-anchor="end" >% IL10<tspan dy="-4.14" font-size="6.16">+</tspan><tspan dy="4.14"> Neutrophil</tspan></text>
<rect x="208.90" y="388.90" width="17.60" height="17.80" fill="#f7f7f7" stroke="#cccccc" stroke-width="0.9"/>
<rect x="210.20" y="390.20" width="15.00" height="15.20" fill="#b4611f" />
<text x="217.70" y="411.00" font-size="25" fill="#fff" stroke="#fff" stroke-width="0.35" text-anchor="middle">*</text>
<rect x="208.90" y="406.70" width="17.60" height="17.70" fill="#f7f7f7" stroke="#cccccc" stroke-width="0.9"/>
<rect x="210.40" y="408.20" width="14.60" height="14.70" fill="#c97a22" />
<text x="217.70" y="428.75" font-size="25" fill="#fff" stroke="#fff" stroke-width="0.35" text-anchor="middle">*</text>
<rect x="208.90" y="424.40" width="17.60" height="18.00" fill="#f7f7f7" stroke="#cccccc" stroke-width="0.9"/>
<rect x="210.20" y="425.70" width="15.00" height="15.40" fill="#b4611f" />
<text x="217.70" y="446.60" font-size="25" fill="#fff" stroke="#fff" stroke-width="0.35" text-anchor="middle">*</text>
<rect x="208.90" y="442.40" width="17.60" height="17.30" fill="#f7f7f7" stroke="#cccccc" stroke-width="0.9"/>
<rect x="210.20" y="443.70" width="15.00" height="14.70" fill="#b4611f" />
<text x="217.70" y="464.25" font-size="25" fill="#fff" stroke="#fff" stroke-width="0.35" text-anchor="middle">*</text>
<rect x="208.90" y="471.90" width="17.60" height="17.80" fill="#f7f7f7" stroke="#cccccc" stroke-width="0.9"/>
<rect x="210.10" y="473.10" width="15.20" height="15.40" fill="#4a2a8c" />
<text x="217.70" y="494.00" font-size="25" fill="#fff" stroke="#fff" stroke-width="0.35" text-anchor="middle">*</text>
<rect x="208.90" y="489.70" width="17.60" height="17.60" fill="#f7f7f7" stroke="#cccccc" stroke-width="0.9"/>
<rect x="210.70" y="491.50" width="14.00" height="14.00" fill="#6a55a8" />
<text x="217.70" y="511.70" font-size="25" fill="#fff" stroke="#fff" stroke-width="0.35" text-anchor="middle">*</text>
<polygon points="43.08,394.75 48.12,394.75 45.60,398.80" fill="#fff" stroke="#e01010" stroke-width="1.5" stroke-linejoin="miter"/>
<circle cx="34.70" cy="432.40" r="4.4" fill="#0808fa"/>
<circle cx="34.70" cy="447.90" r="4.4" fill="#0808fa"/>
<polygon points="43.08,445.75 48.12,445.75 45.60,449.80" fill="#fff" stroke="#e01010" stroke-width="1.5" stroke-linejoin="miter"/>
<polygon points="45.60,478.30 49.40,484.70 41.80,484.70" fill="#e01010"/>
<circle cx="34.70" cy="497.90" r="4.4" fill="#e00000"/>
<rect x="282.00" y="390.80" width="149.00" height="17.20" fill="#b2ece6" />
<text x="284.60" y="403.80" font-size="11.2" fill="#000" text-anchor="start" >% TNFα<tspan dy="-4.14" font-size="6.16">+</tspan><tspan dy="4.14"> Nonclassical</tspan></text>
<rect x="282.00" y="419.40" width="149.00" height="17.30" fill="#f8dd8c" />
<text x="284.60" y="432.45" font-size="11.2" fill="#000" text-anchor="start" >% IL10<tspan dy="-4.14" font-size="6.16">+</tspan><tspan dy="4.14"> Classical</tspan><tspan dy="-4.14" font-size="6.16">#</tspan><tspan dy="4.14"></tspan></text>
<rect x="264.60" y="390.80" width="17.40" height="17.20" fill="#f7f7f7" stroke="#cccccc" stroke-width="0.9"/>
<rect x="265.20" y="391.40" width="16.20" height="16.00" fill="#b4611f" />
<text x="273.30" y="412.60" font-size="25" fill="#fff" stroke="#fff" stroke-width="0.35" text-anchor="middle">*</text>
<rect x="264.60" y="419.40" width="17.40" height="17.30" fill="#f7f7f7" stroke="#cccccc" stroke-width="0.9"/>
<rect x="266.60" y="421.40" width="13.40" height="13.30" fill="#8a7fc0" />
<text x="273.30" y="441.25" font-size="25" fill="#fff" stroke="#fff" stroke-width="0.35" text-anchor="middle">*</text>
<circle cx="411.70" cy="400.60" r="4.4" fill="#0808fa"/>
<line x1="0.00" y1="515.00" x2="448.70" y2="515.00" stroke="#000" stroke-width="4.6" stroke-dasharray="4.65 4.65"/>
<rect x="60.00" y="528.40" width="149.00" height="17.50" fill="#f0bc86" />
<text x="206.60" y="541.55" font-size="11.2" fill="#000" text-anchor="end" >% IL21<tspan dy="-4.14" font-size="6.16">+</tspan><tspan dy="4.14"> Neutrophil</tspan></text>
<rect x="60.00" y="574.50" width="166.40" height="34.90" fill="#c9ace9" />
<text x="206.60" y="569.65" font-size="11.2" fill="#000" text-anchor="end" >% Macrophages<tspan dy="-3.8" font-size="5.2" fill="#8a8a8a">##</tspan></text>
<text x="206.60" y="587.35" font-size="11.2" fill="#000" text-anchor="end" >% CD162<tspan dy="-4.14" font-size="6.16">+</tspan><tspan dy="4.14">IL10</tspan><tspan dy="-4.14" font-size="6.16">+</tspan><tspan dy="4.14"> Classical</tspan></text>
<text x="206.60" y="603.90" font-size="11.2" fill="#000" text-anchor="end" >% CD162<tspan dy="-4.14" font-size="6.16">+</tspan><tspan dy="4.14">IL10</tspan><tspan dy="-4.14" font-size="6.16">+</tspan><tspan dy="4.14"> Nonclassical</tspan></text>
<path d="M226.4,592.8 L236,592.8 C247.5,592.8 246.5,573.9 258,573.9 L264.4,573.9 L264.4,591.4 L261,591.4 C249.5,591.4 250.5,609.4 238.5,609.4 L226.4,609.4 Z" fill="#c9ace9"/>
<rect x="208.90" y="528.40" width="17.60" height="17.50" fill="#f7f7f7" stroke="#cccccc" stroke-width="0.9"/>
<rect x="210.40" y="529.90" width="14.60" height="14.50" fill="#c97a22" />
<text x="217.70" y="550.35" font-size="25" fill="#fff" stroke="#fff" stroke-width="0.35" text-anchor="middle">*</text>
<rect x="208.90" y="556.30" width="17.60" height="17.70" fill="#f7f7f7" stroke="#cccccc" stroke-width="0.9"/>
<rect x="210.30" y="557.70" width="14.80" height="14.90" fill="#6a55a8" />
<text x="217.70" y="578.35" font-size="25" fill="#fff" stroke="#fff" stroke-width="0.35" text-anchor="middle">*</text>
<rect x="208.90" y="574.60" width="17.60" height="17.20" fill="#f7f7f7" stroke="#cccccc" stroke-width="0.9"/>
<rect x="210.90" y="576.60" width="13.60" height="13.20" fill="#8070b8" />
<text x="217.70" y="596.40" font-size="25" fill="#fff" stroke="#fff" stroke-width="0.35" text-anchor="middle">*</text>
<rect x="208.90" y="592.10" width="17.60" height="17.30" fill="#f7f7f7" stroke="#cccccc" stroke-width="0.9"/>
<rect x="210.50" y="593.70" width="14.40" height="14.10" fill="#7565b0" />
<text x="217.70" y="613.95" font-size="25" fill="#fff" stroke="#fff" stroke-width="0.35" text-anchor="middle">*</text>
<rect x="282.00" y="528.40" width="149.00" height="17.50" fill="#f8dd8c" />
<text x="284.60" y="541.55" font-size="11.2" fill="#000" text-anchor="start" >% IL10<tspan dy="-4.14" font-size="6.16">+</tspan><tspan dy="4.14"> Intermediate</tspan></text>
<rect x="282.00" y="557.00" width="149.00" height="17.50" fill="#e9a9f0" />
<text x="284.60" y="570.15" font-size="11.2" fill="#000" text-anchor="start" >% CD64<tspan dy="-4.14" font-size="6.16">+</tspan><tspan dy="4.14"> Neutrophil</tspan></text>
<rect x="282.00" y="574.50" width="149.00" height="17.30" fill="#c9ace9" />
<text x="284.60" y="587.55" font-size="11.2" fill="#000" text-anchor="start" >% CD162<tspan dy="-4.14" font-size="6.16">+</tspan><tspan dy="4.14">IL10</tspan><tspan dy="-4.14" font-size="6.16">+</tspan><tspan dy="4.14"> Nonclassical</tspan></text>
<rect x="264.40" y="528.40" width="17.60" height="17.80" fill="#f7f7f7" stroke="#cccccc" stroke-width="0.9"/>
<rect x="265.20" y="529.20" width="16.00" height="16.20" fill="#b4611f" />
<text x="273.20" y="550.50" font-size="25" fill="#fff" stroke="#fff" stroke-width="0.35" text-anchor="middle">*</text>
<rect x="264.40" y="556.60" width="17.60" height="17.60" fill="#f7f7f7" stroke="#cccccc" stroke-width="0.9"/>
<rect x="266.60" y="558.80" width="13.20" height="13.20" fill="#8a7fc0" />
<text x="273.20" y="578.60" font-size="25" fill="#fff" stroke="#fff" stroke-width="0.35" text-anchor="middle">*</text>
<rect x="264.40" y="574.60" width="17.60" height="17.20" fill="#f7f7f7" stroke="#cccccc" stroke-width="0.9"/>
<rect x="265.10" y="575.30" width="16.20" height="15.80" fill="#5d45a0" />
<text x="273.20" y="596.40" font-size="25" fill="#fff" stroke="#fff" stroke-width="0.35" text-anchor="middle">*</text>
<text x="156.50" y="672.20" font-size="12.9" fill="#000" text-anchor="middle" >Spearman correlation</text>
<text x="157.00" y="684.90" font-size="12.4" fill="#000" text-anchor="middle" >with sgRNAVL BAL</text>
<text x="157.00" y="701.20" font-size="11.2" fill="#000" text-anchor="middle" >Larger Δ associates with</text>
<text x="83.20" y="713.80" font-size="11.2" fill="#000" text-anchor="start" >Decreased VL</text>
<text x="162.40" y="713.80" font-size="11.1" fill="#000" text-anchor="start" >Increased VL</text>
<path d="M90.8,720 L96.5,716.6 L96.5,718.6 L156,718.6 L156,721.4 L96.5,721.4 L96.5,723.4 Z" fill="url(#gP)" stroke="#333" stroke-width="0.7"/>
<path d="M224.6,720 L218.9,716.6 L218.9,718.6 L159.6,718.6 L159.6,721.4 L218.9,721.4 L218.9,723.4 Z" fill="url(#gO)" stroke="#333" stroke-width="0.7"/>
<rect x="92.20" y="727.20" width="131.40" height="5.60" fill="url(#gS)" stroke="#222" stroke-width="0.8"/>
<text transform="translate(97.70,738.00) rotate(-45)" font-size="10.4" text-anchor="end">−1</text>
<text transform="translate(110.84,738.00) rotate(-45)" font-size="10.4" text-anchor="end">−0.8</text>
<text transform="translate(123.98,738.00) rotate(-45)" font-size="10.4" text-anchor="end">−0.6</text>
<text transform="translate(137.12,738.00) rotate(-45)" font-size="10.4" text-anchor="end">−0.4</text>
<text transform="translate(150.26,738.00) rotate(-45)" font-size="10.4" text-anchor="end">−0.2</text>
<text transform="translate(163.40,738.00) rotate(-45)" font-size="10.4" text-anchor="end">0</text>
<text transform="translate(176.54,738.00) rotate(-45)" font-size="10.4" text-anchor="end">0.2</text>
<text transform="translate(189.68,738.00) rotate(-45)" font-size="10.4" text-anchor="end">0.4</text>
<text transform="translate(202.82,738.00) rotate(-45)" font-size="10.4" text-anchor="end">0.6</text>
<text transform="translate(215.96,738.00) rotate(-45)" font-size="10.4" text-anchor="end">0.8</text>
<text transform="translate(229.10,738.00) rotate(-45)" font-size="10.4" text-anchor="end">1</text>
<rect x="111.30" y="758.70" width="16.30" height="16.00" fill="#595959" />
<text x="119.45" y="780.00" font-size="25" fill="#fff" stroke="#fff" stroke-width="0.35" text-anchor="middle">*</text>
<text x="129.70" y="771.50" font-size="11.1" fill="#000" text-anchor="start" >Spearman <tspan font-style="italic">P</tspan> &lt; 0.05</text>
<text x="278.80" y="675.40" font-size="11.8" fill="#000" text-anchor="start" >MW <tspan font-style="italic">P</tspan> &lt; 0.05</text>
<text x="254.20" y="694.90" font-size="11.2" fill="#000" text-anchor="start" >At post-SARS timepoint:</text>
<circle cx="273.80" cy="707.50" r="4.0" fill="#0808fa"/>
<text x="283.20" y="711.80" font-size="11.3" fill="#000" text-anchor="start" >ALVAC &gt; BCG</text>
<polygon points="273.80,716.40 277.60,722.80 270.00,722.80" fill="#0808fa"/>
<text x="283.20" y="723.70" font-size="11.3" fill="#000" text-anchor="start" >ALVAC &gt; Control</text>
<polygon points="271.28,729.35 276.32,729.35 273.80,733.40" fill="#fff" stroke="#0808fa" stroke-width="1.5" stroke-linejoin="miter"/>
<text x="283.20" y="735.80" font-size="11.3" fill="#000" text-anchor="start" >ALVAC &lt; Control</text>
<circle cx="273.80" cy="743.00" r="4.0" fill="#e00000"/>
<text x="283.20" y="747.40" font-size="11.3" fill="#000" text-anchor="start" >BCG &gt; ALVAC</text>
<polygon points="273.80,752.00 277.60,758.40 270.00,758.40" fill="#e00000"/>
<text x="283.20" y="759.30" font-size="11.3" fill="#000" text-anchor="start" >BCG &gt; Control</text>
<polygon points="271.28,764.95 276.32,764.95 273.80,769.00" fill="#fff" stroke="#e00000" stroke-width="1.5" stroke-linejoin="miter"/>
<text x="283.20" y="771.40" font-size="11.3" fill="#000" text-anchor="start" >BCG &lt; Control</text>
<text x="227.50" y="807.20" font-size="11.1" fill="#808080" text-anchor="middle" ><tspan dy="-3.5" font-size="6">#</tspan><tspan dy="3.5">4DPS</tspan></text>
<text x="339.90" y="820.20" font-size="11.1" fill="#808080" text-anchor="end" ><tspan dy="-3.5" font-size="6">##</tspan><tspan dy="3.5">Macrophages were not analyzed from blood</tspan></text>
<text x="456.5" y="356.4" font-size="17" font-weight="bold" stroke="#000" stroke-width="0.9" paint-order="stroke">C</text>
<text x="540.30" y="365.50" font-size="11.1" fill="#000" text-anchor="start" >Comparison(s) with <tspan font-style="italic">P</tspan> &lt; 0.05</text>
<text x="802.20" y="367.80" font-size="14.6" fill="#000" text-anchor="start" >Plasma</text>
<text x="705.00" y="367.30" font-size="10.0" fill="#e01010" text-anchor="middle" >BCG</text>
<text x="739.20" y="367.30" font-size="10.0" fill="#1414f0" text-anchor="middle" >ALVAC</text>
<text x="777.00" y="367.30" font-size="10.0" fill="#3c8a1e" text-anchor="middle" >Control</text>
<rect x="692.30" y="368.70" width="27.50" height="2.60" fill="#e60000" />
<rect x="726.20" y="368.70" width="27.00" height="2.60" fill="#0000f0" />
<rect x="759.60" y="368.70" width="34.40" height="2.60" fill="#3c8a1e" />
<path d="M799.4,388.8 L879,388.8 Q888,388.8 888,398 L888,578 Q888,600.1 860,600.1 L799.4,600.1 L799.4,588.2 L858,588.2 Q879.5,588.2 879.5,574 L879.5,404 Q879.5,400.2 875,400.2 L799.4,400.2 Z" fill="#fdf29a"/>
<path d="M799.4,480.3 L872,480.3 Q898.2,480.3 898.2,500 L898.2,660 Q898.2,681.4 868,681.4 L799.4,681.4 L799.4,669.8 L866,669.8 Q889.6,669.8 889.6,655 L889.6,506 Q889.6,491.6 868,491.6 L799.4,491.6 Z" fill="#b9b4f2" style="mix-blend-mode:multiply"/>
<rect x="799.40" y="505.60" width="63.10" height="11.00" fill="#e6b3ee" />
<rect x="456.20" y="371.20" width="422.30" height="4.10" fill="#000" />
<rect x="456.20" y="497.00" width="422.30" height="4.30" fill="#000" />
<rect x="456.20" y="683.00" width="422.30" height="4.20" fill="#000" />
<rect x="692.30" y="687.00" width="27.50" height="2.60" fill="#e60000" />
<rect x="726.20" y="687.00" width="27.00" height="2.60" fill="#0000f0" />
<rect x="759.60" y="687.00" width="34.40" height="2.60" fill="#3c8a1e" />
<path d="M716.30,690.70 L719.65,694.60 L717.25,694.60 L717.25,698.60 L715.35,698.60 L715.35,694.60 L712.95,694.60 Z" fill="#e01010"/>
<path d="M716.30,692.45 L717.65,693.85 L714.95,693.85 Z" fill="#fff"/>
<path d="M763.20,691.00 L766.55,694.80 L764.12,694.80 L764.12,698.70 L762.28,698.70 L762.28,694.80 L759.85,694.80 Z" fill="#3c8a1e"/>
<line x1="545.80" y1="403.20" x2="878.50" y2="403.20" stroke="#222" stroke-width="1.1" />
<line x1="483.30" y1="436.40" x2="878.50" y2="436.40" stroke="#000" stroke-width="1.8" />
<line x1="545.80" y1="456.50" x2="878.50" y2="456.50" stroke="#222" stroke-width="1.1" />
<line x1="545.80" y1="476.50" x2="878.50" y2="476.50" stroke="#222" stroke-width="1.1" />
<line x1="545.80" y1="520.40" x2="878.50" y2="520.40" stroke="#222" stroke-width="1.1" />
<line x1="483.30" y1="539.90" x2="878.50" y2="539.90" stroke="#000" stroke-width="1.8" />
<line x1="545.80" y1="560.00" x2="878.50" y2="560.00" stroke="#222" stroke-width="1.1" />
<line x1="545.80" y1="603.60" x2="878.50" y2="603.60" stroke="#222" stroke-width="1.1" />
<line x1="545.80" y1="623.70" x2="878.50" y2="623.70" stroke="#222" stroke-width="1.1" />
<line x1="483.30" y1="645.10" x2="878.50" y2="645.10" stroke="#000" stroke-width="1.8" />
<line x1="545.80" y1="665.60" x2="878.50" y2="665.60" stroke="#222" stroke-width="1.1" />
<rect x="692.30" y="377.20" width="6.88" height="11.70" fill="#e8cccc" stroke="#8c8c8c" stroke-width="0.9"/>
<rect x="699.17" y="377.20" width="6.88" height="11.70" fill="#ffffff" stroke="#8c8c8c" stroke-width="0.9"/>
<rect x="706.05" y="377.20" width="6.88" height="11.70" fill="#dfb9b9" stroke="#8c8c8c" stroke-width="0.9"/>
<rect x="712.92" y="377.20" width="6.88" height="11.70" fill="#f9f2f2" stroke="#8c8c8c" stroke-width="0.9"/>
<rect x="726.20" y="377.20" width="6.75" height="11.70" fill="#a6a6d6" stroke="#8c8c8c" stroke-width="0.9"/>
<rect x="732.95" y="377.20" width="6.75" height="11.70" fill="#9999d1" stroke="#8c8c8c" stroke-width="0.9"/>
<rect x="739.70" y="377.20" width="6.75" height="11.70" fill="#a6a6d6" stroke="#8c8c8c" stroke-width="0.9"/>
<rect x="746.45" y="377.20" width="6.75" height="11.70" fill="#9999d1" stroke="#8c8c8c" stroke-width="0.9"/>
<rect x="759.60" y="377.20" width="6.88" height="11.70" fill="#9f9fd4" stroke="#8c8c8c" stroke-width="0.9"/>
<rect x="766.48" y="377.20" width="6.88" height="11.70" fill="#dfb9b9" stroke="#8c8c8c" stroke-width="0.9"/>
<rect x="773.36" y="377.20" width="6.88" height="11.70" fill="#8b0000" stroke="#8c8c8c" stroke-width="0.9"/>
<rect x="780.24" y="377.20" width="6.88" height="11.70" fill="#b2b2dc" stroke="#8c8c8c" stroke-width="0.9"/>
<rect x="787.12" y="377.20" width="6.88" height="11.70" fill="#9999d1" stroke="#8c8c8c" stroke-width="0.9"/>
<text x="807.80" y="387.50" font-size="11.2" fill="#000" text-anchor="start" >OSM</text>
<rect x="692.30" y="388.90" width="6.88" height="11.80" fill="#e2bfbf" stroke="#8c8c8c" stroke-width="0.9"/>
<rect x="699.17" y="388.90" width="6.88" height="11.80" fill="#8b0000" stroke="#8c8c8c" stroke-width="0.9"/>
<rect x="706.05" y="388.90" width="6.88" height="11.80" fill="#bf7373" stroke="#8c8c8c" stroke-width="0.9"/>
<rect x="712.92" y="388.90" width="6.88" height="11.80" fill="#e8cccc" stroke="#8c8c8c" stroke-width="0.9"/>
<rect x="726.20" y="388.90" width="6.75" height="11.80" fill="#9999d1" stroke="#8c8c8c" stroke-width="0.9"/>
<rect x="732.95" y="388.90" width="6.75" height="11.80" fill="#9999d1" stroke="#8c8c8c" stroke-width="0.9"/>
<rect x="739.70" y="388.90" width="6.75" height="11.80" fill="#b9b9df" stroke="#8c8c8c" stroke-width="0.9"/>
<rect x="746.45" y="388.90" width="6.75" height="11.80" fill="#8c8ccb" stroke="#8c8c8c" stroke-width="0.9"/>
<rect x="759.60" y="388.90" width="6.88" height="11.80" fill="#6666b9" stroke="#8c8c8c" stroke-width="0.9"/>
<rect x="766.48" y="388.90" width="6.88" height="11.80" fill="#d9acac" stroke="#8c8c8c" stroke-width="0.9"/>
<rect x="773.36" y="388.90" width="6.88" height="11.80" fill="#bfbfe2" stroke="#8c8c8c" stroke-width="0.9"/>
<rect x="780.24" y="388.90" width="6.88" height="11.80" fill="#8c8ccb" stroke="#8c8c8c" stroke-width="0.9"/>
<rect x="787.12" y="388.90" width="6.88" height="11.80" fill="#e2bfbf" stroke="#8c8c8c" stroke-width="0.9"/>
<text x="807.80" y="399.50" font-size="11.2" fill="#000" text-anchor="start" >TGFA</text>
<rect x="692.30" y="406.50" width="6.88" height="11.90" fill="#d9acac" stroke="#8c8c8c" stroke-width="0.9"/>
<rect x="699.17" y="406.50" width="6.88" height="11.90" fill="#f9f2f2" stroke="#8c8c8c" stroke-width="0.9"/>
<rect x="706.05" y="406.50" width="6.88" height="11.90" fill="#8b0000" stroke="#8c8c8c" stroke-width="0.9"/>
<rect x="712.92" y="406.50" width="6.88" height="11.90" fill="#d19999" stroke="#8c8c8c" stroke-width="0.9"/>
<rect x="726.20" y="406.50" width="6.75" height="11.90" fill="#4040a8" stroke="#8c8c8c" stroke-width="0.9"/>
<rect x="732.95" y="406.50" width="6.75" height="11.90" fill="#d9d9ee" stroke="#8c8c8c" stroke-width="0.9"/>
<rect x="739.70" y="406.50" width="6.75" height="11.90" fill="#e2bfbf" stroke="#8c8c8c" stroke-width="0.9"/>
<rect x="746.45" y="406.50" width="6.75" height="11.90" fill="#6666b9" stroke="#8c8c8c" stroke-width="0.9"/>
<rect x="759.60" y="406.50" width="6.88" height="11.90" fill="#9999d1" stroke="#8c8c8c" stroke-width="0.9"/>
<rect x="766.48" y="406.50" width="6.88" height="11.90" fill="#fcf9f9" stroke="#8c8c8c" stroke-width="0.9"/>
<rect x="773.36" y="406.50" width="6.88" height="11.90" fill="#d9acac" stroke="#8c8c8c" stroke-width="0.9"/>
<rect x="780.24" y="406.50" width="6.88" height="11.90" fill="#7373bf" stroke="#8c8c8c" stroke-width="0.9"/>
<rect x="787.12" y="406.50" width="6.88" height="11.90" fill="#d2d2eb" stroke="#8c8c8c" stroke-width="0.9"/>
<text x="807.80" y="416.90" font-size="11.2" fill="#000" text-anchor="start" >CCL4</text>
<rect x="692.30" y="418.40" width="6.88" height="11.80" fill="#d9acac" stroke="#8c8c8c" stroke-width="0.9"/>
<rect x="699.17" y="418.40" width="6.88" height="11.80" fill="#bf7373" stroke="#8c8c8c" stroke-width="0.9"/>
<rect x="706.05" y="418.40" width="6.88" height="11.80" fill="#8b0000" stroke="#8c8c8c" stroke-width="0.9"/>
<rect x="712.92" y="418.40" width="6.88" height="11.80" fill="#d9d9ee" stroke="#8c8c8c" stroke-width="0.9"/>
<rect x="726.20" y="418.40" width="6.75" height="11.80" fill="#4c4cae" stroke="#8c8c8c" stroke-width="0.9"/>
<rect x="732.95" y="418.40" width="6.75" height="11.80" fill="#e8cccc" stroke="#8c8c8c" stroke-width="0.9"/>
<rect x="739.70" y="418.40" width="6.75" height="11.80" fill="#d6a6a6" stroke="#8c8c8c" stroke-width="0.9"/>
<rect x="746.45" y="418.40" width="6.75" height="11.80" fill="#8c8ccb" stroke="#8c8c8c" stroke-width="0.9"/>
<rect x="759.60" y="418.40" width="6.88" height="11.80" fill="#6060b6" stroke="#8c8c8c" stroke-width="0.9"/>
<rect x="766.48" y="418.40" width="6.88" height="11.80" fill="#d2d2eb" stroke="#8c8c8c" stroke-width="0.9"/>
<rect x="773.36" y="418.40" width="6.88" height="11.80" fill="#b9b9df" stroke="#8c8c8c" stroke-width="0.9"/>
<rect x="780.24" y="418.40" width="6.88" height="11.80" fill="#dfdff0" stroke="#8c8c8c" stroke-width="0.9"/>
<rect x="787.12" y="418.40" width="6.88" height="11.80" fill="#b2b2dc" stroke="#8c8c8c" stroke-width="0.9"/>
<text x="807.80" y="428.90" font-size="11.2" fill="#000" text-anchor="start" >LTA</text>
<rect x="692.30" y="440.60" width="6.88" height="11.90" fill="#e2bfbf" stroke="#8c8c8c" stroke-width="0.9"/>
<rect x="699.17" y="440.60" width="6.88" height="11.90" fill="#9999d1" stroke="#8c8c8c" stroke-width="0.9"/>
<rect x="706.05" y="440.60" width="6.88" height="11.90" fill="#8b0000" stroke="#8c8c8c" stroke-width="0.9"/>
<rect x="712.92" y="440.60" width="6.88" height="11.90" fill="#b2b2dc" stroke="#8c8c8c" stroke-width="0.9"/>
<rect x="726.20" y="440.60" width="6.75" height="11.90" fill="#f9f2f2" stroke="#8c8c8c" stroke-width="0.9"/>
<rect x="732.95" y="440.60" width="6.75" height="11.90" fill="#c58080" stroke="#8c8c8c" stroke-width="0.9"/>
<rect x="739.70" y="440.60" width="6.75" height="11.90" fill="#f0dfdf" stroke="#8c8c8c" stroke-width="0.9"/>
<rect x="746.45" y="440.60" width="6.75" height="11.90" fill="#fcf9f9" stroke="#8c8c8c" stroke-width="0.9"/>
<rect x="759.60" y="440.60" width="6.88" height="11.90" fill="#6666b9" stroke="#8c8c8c" stroke-width="0.9"/>
<rect x="766.48" y="440.60" width="6.88" height="11.90" fill="#a6a6d6" stroke="#8c8c8c" stroke-width="0.9"/>
<rect x="773.36" y="440.60" width="6.88" height="11.90" fill="#ececf6" stroke="#8c8c8c" stroke-width="0.9"/>
<rect x="780.24" y="440.60" width="6.88" height="11.90" fill="#b2b2dc" stroke="#8c8c8c" stroke-width="0.9"/>
<rect x="787.12" y="440.60" width="6.88" height="11.90" fill="#9393ce" stroke="#8c8c8c" stroke-width="0.9"/>
<text x="807.80" y="450.90" font-size="11.2" fill="#000" text-anchor="start" >MMP12</text>
<rect x="692.30" y="460.40" width="6.88" height="11.80" fill="#bfbfe2" stroke="#8c8c8c" stroke-width="0.9"/>
<rect x="699.17" y="460.40" width="6.88" height="11.80" fill="#dfb9b9" stroke="#8c8c8c" stroke-width="0.9"/>
<rect x="706.05" y="460.40" width="6.88" height="11.80" fill="#b9b9df" stroke="#8c8c8c" stroke-width="0.9"/>
<rect x="712.92" y="460.40" width="6.88" height="11.80" fill="#f0dfdf" stroke="#8c8c8c" stroke-width="0.9"/>
<rect x="726.20" y="460.40" width="6.75" height="11.80" fill="#8080c5" stroke="#8c8c8c" stroke-width="0.9"/>
<rect x="732.95" y="460.40" width="6.75" height="11.80" fill="#e6e6f3" stroke="#8c8c8c" stroke-width="0.9"/>
<rect x="739.70" y="460.40" width="6.75" height="11.80" fill="#a6a6d6" stroke="#8c8c8c" stroke-width="0.9"/>
<rect x="746.45" y="460.40" width="6.75" height="11.80" fill="#4040a8" stroke="#8c8c8c" stroke-width="0.9"/>
<rect x="759.60" y="460.40" width="6.88" height="11.80" fill="#ffffff" stroke="#8c8c8c" stroke-width="0.9"/>
<rect x="766.48" y="460.40" width="6.88" height="11.80" fill="#faf5f5" stroke="#8c8c8c" stroke-width="0.9"/>
<rect x="773.36" y="460.40" width="6.88" height="11.80" fill="#8b0000" stroke="#8c8c8c" stroke-width="0.9"/>
<rect x="780.24" y="460.40" width="6.88" height="11.80" fill="#bfbfe2" stroke="#8c8c8c" stroke-width="0.9"/>
<rect x="787.12" y="460.40" width="6.88" height="11.80" fill="#d19999" stroke="#8c8c8c" stroke-width="0.9"/>
<text x="807.80" y="470.70" font-size="11.2" fill="#000" text-anchor="start" >IL18</text>
<rect x="692.30" y="480.10" width="6.88" height="11.70" fill="#dfdff0" stroke="#8c8c8c" stroke-width="0.9"/>
<rect x="699.17" y="480.10" width="6.88" height="11.70" fill="#acacd9" stroke="#8c8c8c" stroke-width="0.9"/>
<rect x="706.05" y="480.10" width="6.88" height="11.70" fill="#acacd9" stroke="#8c8c8c" stroke-width="0.9"/>
<rect x="712.92" y="480.10" width="6.88" height="11.70" fill="#dfb9b9" stroke="#8c8c8c" stroke-width="0.9"/>
<rect x="726.20" y="480.10" width="6.75" height="11.70" fill="#9f9fd4" stroke="#8c8c8c" stroke-width="0.9"/>
<rect x="732.95" y="480.10" width="6.75" height="11.70" fill="#9999d1" stroke="#8c8c8c" stroke-width="0.9"/>
<rect x="739.70" y="480.10" width="6.75" height="11.70" fill="#a6a6d6" stroke="#8c8c8c" stroke-width="0.9"/>
<rect x="746.45" y="480.10" width="6.75" height="11.70" fill="#9393ce" stroke="#8c8c8c" stroke-width="0.9"/>
<rect x="759.60" y="480.10" width="6.88" height="11.70" fill="#d2d2eb" stroke="#8c8c8c" stroke-width="0.9"/>
<rect x="766.48" y="480.10" width="6.88" height="11.70" fill="#9c2626" stroke="#8c8c8c" stroke-width="0.9"/>
<rect x="773.36" y="480.10" width="6.88" height="11.70" fill="#8b0000" stroke="#8c8c8c" stroke-width="0.9"/>
<rect x="780.24" y="480.10" width="6.88" height="11.70" fill="#a6a6d6" stroke="#8c8c8c" stroke-width="0.9"/>
<rect x="787.12" y="480.10" width="6.88" height="11.70" fill="#e5c6c6" stroke="#8c8c8c" stroke-width="0.9"/>
<text x="807.80" y="490.80" font-size="11.2" fill="#000" text-anchor="start" >HGF</text>
<rect x="692.30" y="505.40" width="6.88" height="11.70" fill="#8b0000" stroke="#8c8c8c" stroke-width="0.9"/>
<rect x="699.17" y="505.40" width="6.88" height="11.70" fill="#f0f0f8" stroke="#8c8c8c" stroke-width="0.9"/>
<rect x="706.05" y="505.40" width="6.88" height="11.70" fill="#dfdff0" stroke="#8c8c8c" stroke-width="0.9"/>
<rect x="712.92" y="505.40" width="6.88" height="11.70" fill="#f0dfdf" stroke="#8c8c8c" stroke-width="0.9"/>
<rect x="726.20" y="505.40" width="6.75" height="11.70" fill="#f2f2f9" stroke="#8c8c8c" stroke-width="0.9"/>
<rect x="732.95" y="505.40" width="6.75" height="11.70" fill="#eed9d9" stroke="#8c8c8c" stroke-width="0.9"/>
<rect x="739.70" y="505.40" width="6.75" height="11.70" fill="#d19999" stroke="#8c8c8c" stroke-width="0.9"/>
<rect x="746.45" y="505.40" width="6.75" height="11.70" fill="#dfdff0" stroke="#8c8c8c" stroke-width="0.9"/>
<rect x="759.60" y="505.40" width="6.88" height="11.70" fill="#a6a6d6" stroke="#8c8c8c" stroke-width="0.9"/>
<rect x="766.48" y="505.40" width="6.88" height="11.70" fill="#9f9fd4" stroke="#8c8c8c" stroke-width="0.9"/>
<rect x="773.36" y="505.40" width="6.88" height="11.70" fill="#9f9fd4" stroke="#8c8c8c" stroke-width="0.9"/>
<rect x="780.24" y="505.40" width="6.88" height="11.70" fill="#9f9fd4" stroke="#8c8c8c" stroke-width="0.9"/>
<rect x="787.12" y="505.40" width="6.88" height="11.70" fill="#8c8ccb" stroke="#8c8c8c" stroke-width="0.9"/>
<text x="807.80" y="516.00" font-size="11.2" fill="#000" text-anchor="start" >IL33</text>
<rect x="692.30" y="524.10" width="6.88" height="11.60" fill="#9f9fd4" stroke="#8c8c8c" stroke-width="0.9"/>
<rect x="699.17" y="524.10" width="6.88" height="11.60" fill="#5353b1" stroke="#8c8c8c" stroke-width="0.9"/>
<rect x="706.05" y="524.10" width="6.88" height="11.60" fill="#f9f2f2" stroke="#8c8c8c" stroke-width="0.9"/>
<rect x="712.92" y="524.10" width="6.88" height="11.60" fill="#9f9fd4" stroke="#8c8c8c" stroke-width="0.9"/>
<rect x="726.20" y="524.10" width="6.75" height="11.60" fill="#d9d9ee" stroke="#8c8c8c" stroke-width="0.9"/>
<rect x="732.95" y="524.10" width="6.75" height="11.60" fill="#d2d2eb" stroke="#8c8c8c" stroke-width="0.9"/>
<rect x="739.70" y="524.10" width="6.75" height="11.60" fill="#9393ce" stroke="#8c8c8c" stroke-width="0.9"/>
<rect x="746.45" y="524.10" width="6.75" height="11.60" fill="#9393ce" stroke="#8c8c8c" stroke-width="0.9"/>
<rect x="759.60" y="524.10" width="6.88" height="11.60" fill="#8b0000" stroke="#8c8c8c" stroke-width="0.9"/>
<rect x="766.48" y="524.10" width="6.88" height="11.60" fill="#ae4c4c" stroke="#8c8c8c" stroke-width="0.9"/>
<rect x="773.36" y="524.10" width="6.88" height="11.60" fill="#b15353" stroke="#8c8c8c" stroke-width="0.9"/>
<rect x="780.24" y="524.10" width="6.88" height="11.60" fill="#f3e6e6" stroke="#8c8c8c" stroke-width="0.9"/>
<rect x="787.12" y="524.10" width="6.88" height="11.60" fill="#ececf6" stroke="#8c8c8c" stroke-width="0.9"/>
<text x="807.80" y="534.50" font-size="11.2" fill="#000" text-anchor="start" >CXCL10</text>
<rect x="692.30" y="544.30" width="6.88" height="11.70" fill="#c58080" stroke="#8c8c8c" stroke-width="0.9"/>
<rect x="699.17" y="544.30" width="6.88" height="11.70" fill="#b45959" stroke="#8c8c8c" stroke-width="0.9"/>
<rect x="706.05" y="544.30" width="6.88" height="11.70" fill="#a53939" stroke="#8c8c8c" stroke-width="0.9"/>
<rect x="712.92" y="544.30" width="6.88" height="11.70" fill="#ae4c4c" stroke="#8c8c8c" stroke-width="0.9"/>
<rect x="726.20" y="544.30" width="6.75" height="11.70" fill="#bfbfe2" stroke="#8c8c8c" stroke-width="0.9"/>
<rect x="732.95" y="544.30" width="6.75" height="11.70" fill="#bfbfe2" stroke="#8c8c8c" stroke-width="0.9"/>
<rect x="739.70" y="544.30" width="6.75" height="11.70" fill="#acacd9" stroke="#8c8c8c" stroke-width="0.9"/>
<rect x="746.45" y="544.30" width="6.75" height="11.70" fill="#26269c" stroke="#8c8c8c" stroke-width="0.9"/>
<rect x="759.60" y="544.30" width="6.88" height="11.70" fill="#6060b6" stroke="#8c8c8c" stroke-width="0.9"/>
<rect x="766.48" y="544.30" width="6.88" height="11.70" fill="#e8cccc" stroke="#8c8c8c" stroke-width="0.9"/>
<rect x="773.36" y="544.30" width="6.88" height="11.70" fill="#bfbfe2" stroke="#8c8c8c" stroke-width="0.9"/>
<rect x="780.24" y="544.30" width="6.88" height="11.70" fill="#d2d2eb" stroke="#8c8c8c" stroke-width="0.9"/>
<rect x="787.12" y="544.30" width="6.88" height="11.70" fill="#c6c6e5" stroke="#8c8c8c" stroke-width="0.9"/>
<text x="807.80" y="554.80" font-size="11.2" fill="#000" text-anchor="start" >CSF1</text>
<rect x="692.30" y="564.30" width="6.88" height="12.00" fill="#dfb9b9" stroke="#8c8c8c" stroke-width="0.9"/>
<rect x="699.17" y="564.30" width="6.88" height="12.00" fill="#c58080" stroke="#8c8c8c" stroke-width="0.9"/>
<rect x="706.05" y="564.30" width="6.88" height="12.00" fill="#bf7373" stroke="#8c8c8c" stroke-width="0.9"/>
<rect x="712.92" y="564.30" width="6.88" height="12.00" fill="#c88686" stroke="#8c8c8c" stroke-width="0.9"/>
<rect x="726.20" y="564.30" width="6.75" height="12.00" fill="#f9f2f2" stroke="#8c8c8c" stroke-width="0.9"/>
<rect x="732.95" y="564.30" width="6.75" height="12.00" fill="#6666b9" stroke="#8c8c8c" stroke-width="0.9"/>
<rect x="739.70" y="564.30" width="6.75" height="12.00" fill="#b2b2dc" stroke="#8c8c8c" stroke-width="0.9"/>
<rect x="746.45" y="564.30" width="6.75" height="12.00" fill="#00008b" stroke="#8c8c8c" stroke-width="0.9"/>
<rect x="759.60" y="564.30" width="6.88" height="12.00" fill="#bfbfe2" stroke="#8c8c8c" stroke-width="0.9"/>
<rect x="766.48" y="564.30" width="6.88" height="12.00" fill="#bfbfe2" stroke="#8c8c8c" stroke-width="0.9"/>
<rect x="773.36" y="564.30" width="6.88" height="12.00" fill="#d2d2eb" stroke="#8c8c8c" stroke-width="0.9"/>
<rect x="780.24" y="564.30" width="6.88" height="12.00" fill="#ae4c4c" stroke="#8c8c8c" stroke-width="0.9"/>
<rect x="787.12" y="564.30" width="6.88" height="12.00" fill="#ebd2d2" stroke="#8c8c8c" stroke-width="0.9"/>
<text x="807.80" y="575.10" font-size="11.2" fill="#000" text-anchor="start" >CCL3</text>
<rect x="692.30" y="576.30" width="6.88" height="12.00" fill="#cb8c8c" stroke="#8c8c8c" stroke-width="0.9"/>
<rect x="699.17" y="576.30" width="6.88" height="12.00" fill="#ffffff" stroke="#8c8c8c" stroke-width="0.9"/>
<rect x="706.05" y="576.30" width="6.88" height="12.00" fill="#bc6c6c" stroke="#8c8c8c" stroke-width="0.9"/>
<rect x="712.92" y="576.30" width="6.88" height="12.00" fill="#d6a6a6" stroke="#8c8c8c" stroke-width="0.9"/>
<rect x="726.20" y="576.30" width="6.75" height="12.00" fill="#3939a5" stroke="#8c8c8c" stroke-width="0.9"/>
<rect x="732.95" y="576.30" width="6.75" height="12.00" fill="#dfdff0" stroke="#8c8c8c" stroke-width="0.9"/>
<rect x="739.70" y="576.30" width="6.75" height="12.00" fill="#9999d1" stroke="#8c8c8c" stroke-width="0.9"/>
<rect x="746.45" y="576.30" width="6.75" height="12.00" fill="#6666b9" stroke="#8c8c8c" stroke-width="0.9"/>
<rect x="759.60" y="576.30" width="6.88" height="12.00" fill="#b2b2dc" stroke="#8c8c8c" stroke-width="0.9"/>
<rect x="766.48" y="576.30" width="6.88" height="12.00" fill="#a84040" stroke="#8c8c8c" stroke-width="0.9"/>
<rect x="773.36" y="576.30" width="6.88" height="12.00" fill="#6060b6" stroke="#8c8c8c" stroke-width="0.9"/>
<rect x="780.24" y="576.30" width="6.88" height="12.00" fill="#ae4c4c" stroke="#8c8c8c" stroke-width="0.9"/>
<rect x="787.12" y="576.30" width="6.88" height="12.00" fill="#ececf6" stroke="#8c8c8c" stroke-width="0.9"/>
<text x="807.80" y="587.00" font-size="11.2" fill="#000" text-anchor="start" >OLR1</text>
<rect x="692.30" y="588.30" width="6.88" height="11.70" fill="#e2bfbf" stroke="#8c8c8c" stroke-width="0.9"/>
<rect x="699.17" y="588.30" width="6.88" height="11.70" fill="#ce9393" stroke="#8c8c8c" stroke-width="0.9"/>
<rect x="706.05" y="588.30" width="6.88" height="11.70" fill="#d6a6a6" stroke="#8c8c8c" stroke-width="0.9"/>
<rect x="712.92" y="588.30" width="6.88" height="11.70" fill="#8b0000" stroke="#8c8c8c" stroke-width="0.9"/>
<rect x="726.20" y="588.30" width="6.75" height="11.70" fill="#c6c6e5" stroke="#8c8c8c" stroke-width="0.9"/>
<rect x="732.95" y="588.30" width="6.75" height="11.70" fill="#e5c6c6" stroke="#8c8c8c" stroke-width="0.9"/>
<rect x="739.70" y="588.30" width="6.75" height="11.70" fill="#9f9fd4" stroke="#8c8c8c" stroke-width="0.9"/>
<rect x="746.45" y="588.30" width="6.75" height="11.70" fill="#00008b" stroke="#8c8c8c" stroke-width="0.9"/>
<rect x="759.60" y="588.30" width="6.88" height="11.70" fill="#6c6cbc" stroke="#8c8c8c" stroke-width="0.9"/>
<rect x="766.48" y="588.30" width="6.88" height="11.70" fill="#ffffff" stroke="#8c8c8c" stroke-width="0.9"/>
<rect x="773.36" y="588.30" width="6.88" height="11.70" fill="#d2d2eb" stroke="#8c8c8c" stroke-width="0.9"/>
<rect x="780.24" y="588.30" width="6.88" height="11.70" fill="#b9b9df" stroke="#8c8c8c" stroke-width="0.9"/>
<rect x="787.12" y="588.30" width="6.88" height="11.70" fill="#d19999" stroke="#8c8c8c" stroke-width="0.9"/>
<text x="807.80" y="598.90" font-size="11.2" fill="#000" text-anchor="start" >TGFA</text>
<rect x="692.30" y="607.40" width="6.88" height="11.60" fill="#e2bfbf" stroke="#8c8c8c" stroke-width="0.9"/>
<rect x="699.17" y="607.40" width="6.88" height="11.60" fill="#d6a6a6" stroke="#8c8c8c" stroke-width="0.9"/>
<rect x="706.05" y="607.40" width="6.88" height="11.60" fill="#c58080" stroke="#8c8c8c" stroke-width="0.9"/>
<rect x="712.92" y="607.40" width="6.88" height="11.60" fill="#bf7373" stroke="#8c8c8c" stroke-width="0.9"/>
<rect x="726.20" y="607.40" width="6.75" height="11.60" fill="#d19999" stroke="#8c8c8c" stroke-width="0.9"/>
<rect x="732.95" y="607.40" width="6.75" height="11.60" fill="#ae4c4c" stroke="#8c8c8c" stroke-width="0.9"/>
<rect x="739.70" y="607.40" width="6.75" height="11.60" fill="#8686c8" stroke="#8c8c8c" stroke-width="0.9"/>
<rect x="746.45" y="607.40" width="6.75" height="11.60" fill="#ececf6" stroke="#8c8c8c" stroke-width="0.9"/>
<rect x="759.60" y="607.40" width="6.88" height="11.60" fill="#4040a8" stroke="#8c8c8c" stroke-width="0.9"/>
<rect x="766.48" y="607.40" width="6.88" height="11.60" fill="#7979c2" stroke="#8c8c8c" stroke-width="0.9"/>
<rect x="773.36" y="607.40" width="6.88" height="11.60" fill="#e2bfbf" stroke="#8c8c8c" stroke-width="0.9"/>
<rect x="780.24" y="607.40" width="6.88" height="11.60" fill="#9999d1" stroke="#8c8c8c" stroke-width="0.9"/>
<rect x="787.12" y="607.40" width="6.88" height="11.60" fill="#3939a5" stroke="#8c8c8c" stroke-width="0.9"/>
<text x="807.80" y="617.90" font-size="11.2" fill="#000" text-anchor="start" >VEGFA</text>
<rect x="692.30" y="628.30" width="6.88" height="11.90" fill="#acacd9" stroke="#8c8c8c" stroke-width="0.9"/>
<rect x="699.17" y="628.30" width="6.88" height="11.90" fill="#fcf9f9" stroke="#8c8c8c" stroke-width="0.9"/>
<rect x="706.05" y="628.30" width="6.88" height="11.90" fill="#a6a6d6" stroke="#8c8c8c" stroke-width="0.9"/>
<rect x="712.92" y="628.30" width="6.88" height="11.90" fill="#b2b2dc" stroke="#8c8c8c" stroke-width="0.9"/>
<rect x="726.20" y="628.30" width="6.75" height="11.90" fill="#6666b9" stroke="#8c8c8c" stroke-width="0.9"/>
<rect x="732.95" y="628.30" width="6.75" height="11.90" fill="#ce9393" stroke="#8c8c8c" stroke-width="0.9"/>
<rect x="739.70" y="628.30" width="6.75" height="11.90" fill="#9393ce" stroke="#8c8c8c" stroke-width="0.9"/>
<rect x="746.45" y="628.30" width="6.75" height="11.90" fill="#5353b1" stroke="#8c8c8c" stroke-width="0.9"/>
<rect x="759.60" y="628.30" width="6.88" height="11.90" fill="#8b0000" stroke="#8c8c8c" stroke-width="0.9"/>
<rect x="766.48" y="628.30" width="6.88" height="11.90" fill="#c58080" stroke="#8c8c8c" stroke-width="0.9"/>
<rect x="773.36" y="628.30" width="6.88" height="11.90" fill="#f9f2f2" stroke="#8c8c8c" stroke-width="0.9"/>
<rect x="780.24" y="628.30" width="6.88" height="11.90" fill="#b15353" stroke="#8c8c8c" stroke-width="0.9"/>
<rect x="787.12" y="628.30" width="6.88" height="11.90" fill="#e6e6f3" stroke="#8c8c8c" stroke-width="0.9"/>
<text x="807.80" y="639.00" font-size="11.2" fill="#000" text-anchor="start" >IL17F</text>
<rect x="692.30" y="649.70" width="6.88" height="11.80" fill="#ce9393" stroke="#8c8c8c" stroke-width="0.9"/>
<rect x="699.17" y="649.70" width="6.88" height="11.80" fill="#c6c6e5" stroke="#8c8c8c" stroke-width="0.9"/>
<rect x="706.05" y="649.70" width="6.88" height="11.80" fill="#6666b9" stroke="#8c8c8c" stroke-width="0.9"/>
<rect x="712.92" y="649.70" width="6.88" height="11.80" fill="#dcb2b2" stroke="#8c8c8c" stroke-width="0.9"/>
<rect x="726.20" y="649.70" width="6.75" height="11.80" fill="#bc6c6c" stroke="#8c8c8c" stroke-width="0.9"/>
<rect x="732.95" y="649.70" width="6.75" height="11.80" fill="#dcb2b2" stroke="#8c8c8c" stroke-width="0.9"/>
<rect x="739.70" y="649.70" width="6.75" height="11.80" fill="#d19999" stroke="#8c8c8c" stroke-width="0.9"/>
<rect x="746.45" y="649.70" width="6.75" height="11.80" fill="#971a1a" stroke="#8c8c8c" stroke-width="0.9"/>
<rect x="759.60" y="649.70" width="6.88" height="11.80" fill="#b9b9df" stroke="#8c8c8c" stroke-width="0.9"/>
<rect x="766.48" y="649.70" width="6.88" height="11.80" fill="#4040a8" stroke="#8c8c8c" stroke-width="0.9"/>
<rect x="773.36" y="649.70" width="6.88" height="11.80" fill="#3939a5" stroke="#8c8c8c" stroke-width="0.9"/>
<rect x="780.24" y="649.70" width="6.88" height="11.80" fill="#fcf9f9" stroke="#8c8c8c" stroke-width="0.9"/>
<rect x="787.12" y="649.70" width="6.88" height="11.80" fill="#acacd9" stroke="#8c8c8c" stroke-width="0.9"/>
<text x="807.80" y="660.00" font-size="11.2" fill="#000" text-anchor="start" >CXCL12</text>
<rect x="692.30" y="669.80" width="6.88" height="11.60" fill="#b2b2dc" stroke="#8c8c8c" stroke-width="0.9"/>
<rect x="699.17" y="669.80" width="6.88" height="11.60" fill="#e8cccc" stroke="#8c8c8c" stroke-width="0.9"/>
<rect x="706.05" y="669.80" width="6.88" height="11.60" fill="#acacd9" stroke="#8c8c8c" stroke-width="0.9"/>
<rect x="712.92" y="669.80" width="6.88" height="11.60" fill="#8b0000" stroke="#8c8c8c" stroke-width="0.9"/>
<rect x="726.20" y="669.80" width="6.75" height="11.60" fill="#e6e6f3" stroke="#8c8c8c" stroke-width="0.9"/>
<rect x="732.95" y="669.80" width="6.75" height="11.60" fill="#a6a6d6" stroke="#8c8c8c" stroke-width="0.9"/>
<rect x="739.70" y="669.80" width="6.75" height="11.60" fill="#a6a6d6" stroke="#8c8c8c" stroke-width="0.9"/>
<rect x="746.45" y="669.80" width="6.75" height="11.60" fill="#8080c5" stroke="#8c8c8c" stroke-width="0.9"/>
<rect x="759.60" y="669.80" width="6.88" height="11.60" fill="#b9b9df" stroke="#8c8c8c" stroke-width="0.9"/>
<rect x="766.48" y="669.80" width="6.88" height="11.60" fill="#f3e6e6" stroke="#8c8c8c" stroke-width="0.9"/>
<rect x="773.36" y="669.80" width="6.88" height="11.60" fill="#fcf9f9" stroke="#8c8c8c" stroke-width="0.9"/>
<rect x="780.24" y="669.80" width="6.88" height="11.60" fill="#ffffff" stroke="#8c8c8c" stroke-width="0.9"/>
<rect x="787.12" y="669.80" width="6.88" height="11.60" fill="#c58080" stroke="#8c8c8c" stroke-width="0.9"/>
<text x="807.80" y="680.30" font-size="11.2" fill="#000" text-anchor="start" >HGF</text>
<text x="682.90" y="393.30" font-size="11.4" text-anchor="end" xml:space="preserve"><tspan fill="#e01010">BCG</tspan> &gt; ALVAC</text>
<text x="685.60" y="421.60" font-size="11.4" text-anchor="end" xml:space="preserve"><tspan fill="#e01010">BCG</tspan> &gt; Control</text>
<text x="685.60" y="451.60" font-size="11.4" text-anchor="end" xml:space="preserve"><tspan fill="#1414f0">ALVAC</tspan> &gt; Control</text>
<text x="685.60" y="470.80" font-size="11.4" text-anchor="end" xml:space="preserve"><tspan fill="#1414f0">ALVAC</tspan> &lt; Control</text>
<text x="685.60" y="489.70" font-size="11.4" text-anchor="end" xml:space="preserve"><tspan fill="#1414f0">ALVAC</tspan> &lt; Control &amp; BCG</text>
<text x="685.60" y="515.50" font-size="11.4" text-anchor="end" xml:space="preserve"><tspan fill="#e01010">BCG</tspan> &amp; <tspan fill="#1414f0">ALVAC</tspan> &gt; Control</text>
<text x="685.60" y="534.40" font-size="11.4" text-anchor="end" xml:space="preserve"><tspan fill="#e01010">BCG</tspan> &amp; <tspan fill="#1414f0">ALVAC</tspan> &lt; Control</text>
<text x="685.20" y="554.40" font-size="11.4" text-anchor="end" xml:space="preserve"><tspan fill="#e01010">BCG</tspan> &gt; Control &amp; ALVAC</text>
<text x="682.90" y="586.30" font-size="11.4" text-anchor="end" xml:space="preserve"><tspan fill="#e01010">BCG</tspan> &gt; ALVAC</text>
<text x="685.60" y="619.10" font-size="11.4" text-anchor="end" xml:space="preserve"><tspan fill="#e01010">BCG</tspan> &gt; Control</text>
<text x="685.60" y="638.50" font-size="11.4" text-anchor="end" xml:space="preserve"><tspan fill="#e01010">BCG</tspan> &lt; Control</text>
<text x="685.60" y="660.80" font-size="11.4" text-anchor="end" xml:space="preserve"><tspan fill="#1414f0">ALVAC</tspan> &gt; Control</text>
<text x="685.60" y="679.90" font-size="11.4" text-anchor="end" xml:space="preserve"><tspan fill="#1414f0">ALVAC</tspan> &lt; Control</text>
<text x="510.50" y="400.20" font-size="14.9" fill="#e01010" text-anchor="middle" >BCG-</text>
<text x="510.50" y="413.30" font-size="14.9" fill="#e01010" text-anchor="middle" >specific</text>
<text x="509.70" y="464.10" font-size="14.9" fill="#1414f0" text-anchor="middle" >ALVAC-</text>
<text x="509.70" y="476.60" font-size="14.9" fill="#1414f0" text-anchor="middle" >specific</text>
<text x="509.70" y="524.40" font-size="14.9" fill="#000" text-anchor="middle" >Shared</text>
<text x="510.30" y="586.90" font-size="14.9" fill="#e01010" text-anchor="middle" >BCG-</text>
<text x="510.30" y="599.70" font-size="14.9" fill="#e01010" text-anchor="middle" >specific</text>
<text x="509.70" y="659.90" font-size="14.9" fill="#1414f0" text-anchor="middle" >ALVAC-</text>
<text x="509.70" y="672.50" font-size="14.9" fill="#1414f0" text-anchor="middle" >specific</text>
<text transform="translate(471.40,434.00) rotate(-90)" font-size="12.8" text-anchor="middle">2DPS</text>
<text transform="translate(471.40,589.70) rotate(-90)" font-size="12.8" text-anchor="middle">7DPS</text>
<text x="839.10" y="711.80" font-size="10.8" fill="#000" text-anchor="middle" >row-scaled</text>
<text x="839.30" y="722.50" font-size="10.8" fill="#000" text-anchor="middle" >ng/mL</text>
<rect x="809.10" y="728.00" width="60.00" height="12.40" fill="url(#gC)" />
<text x="806.70" y="750.50" font-size="10.6" fill="#000" text-anchor="start" >2</text>
<text x="825.30" y="750.50" font-size="10.6" fill="#000" text-anchor="middle" >1</text>
<text x="839.00" y="750.50" font-size="10.6" fill="#000" text-anchor="middle" >0</text>
<text x="849.30" y="750.50" font-size="10.6" fill="#000" text-anchor="start" >−1</text>
<text x="862.90" y="750.50" font-size="10.6" fill="#000" text-anchor="start" >−2</text>
<path d="M817.60,756.80 L821.35,761.17 L818.66,761.17 L818.66,765.65 L816.54,765.65 L816.54,761.17 L813.85,761.17 Z" fill="#e01010"/>
<path d="M817.60,758.76 L819.11,760.33 L816.09,760.33 Z" fill="#fff"/>
<text x="825.30" y="765.80" font-size="11.0" fill="#000" text-anchor="start" >= DGB6</text>
<path d="M817.60,769.50 L821.02,773.38 L818.54,773.38 L818.54,777.35 L816.66,777.35 L816.66,773.38 L814.18,773.38 Z" fill="#3c8a1e"/>
<text x="825.30" y="778.10" font-size="11.0" fill="#000" text-anchor="start" >= H28T</text>
<text x="456" y="762.3" font-size="17" font-weight="bold" stroke="#000" stroke-width="0.9" paint-order="stroke">D</text>
<text x="521.80" y="760.50" font-size="11.2" fill="#000" text-anchor="middle" >vs.</text>
<text x="521.20" y="772.20" font-size="11.2" fill="#000" text-anchor="middle" >sgRNA</text>
<text x="520.80" y="783.80" font-size="11.2" fill="#000" text-anchor="middle" >VL BAL</text>
<text x="520.40" y="795.00" font-size="11.2" fill="#000" text-anchor="middle" >(7DPS)</text>
<text x="552.00" y="795.00" font-size="14.6" fill="#000" text-anchor="start" >Plasma</text>
<text transform="translate(506.30,825.00) rotate(-90)" font-size="12.8" text-anchor="middle">7DPS</text>
<rect x="510.60" y="801.20" width="18.60" height="18.40" fill="#f7f7f7" stroke="#cccccc" stroke-width="0.9"/>
<rect x="512.00" y="802.60" width="15.80" height="15.60" fill="#c98a2b" />
<text x="519.90" y="823.60" font-size="25" fill="#fff" stroke="#fff" stroke-width="0.35" text-anchor="middle">*</text>
<rect x="510.60" y="829.80" width="18.60" height="18.60" fill="#f7f7f7" stroke="#cccccc" stroke-width="0.9"/>
<rect x="512.80" y="832.00" width="14.20" height="14.20" fill="#8b7fbd" />
<text x="519.90" y="852.30" font-size="25" fill="#fff" stroke="#fff" stroke-width="0.35" text-anchor="middle">*</text>
<text x="556.60" y="816.50" font-size="11.2" fill="#000" text-anchor="start" >CCL19</text>
<rect x="549.20" y="835.00" width="43.30" height="12.00" fill="#e6b3ee" />
<text x="558.00" y="845.40" font-size="11.2" fill="#000" text-anchor="start" >IL33</text>
<polygon points="600.40,836.00 605.60,844.00 595.20,844.00" fill="#e00000"/>
<polygon points="613.60,836.00 618.90,844.00 608.30,844.00" fill="#0808fa"/>
</svg>
</body></html>
